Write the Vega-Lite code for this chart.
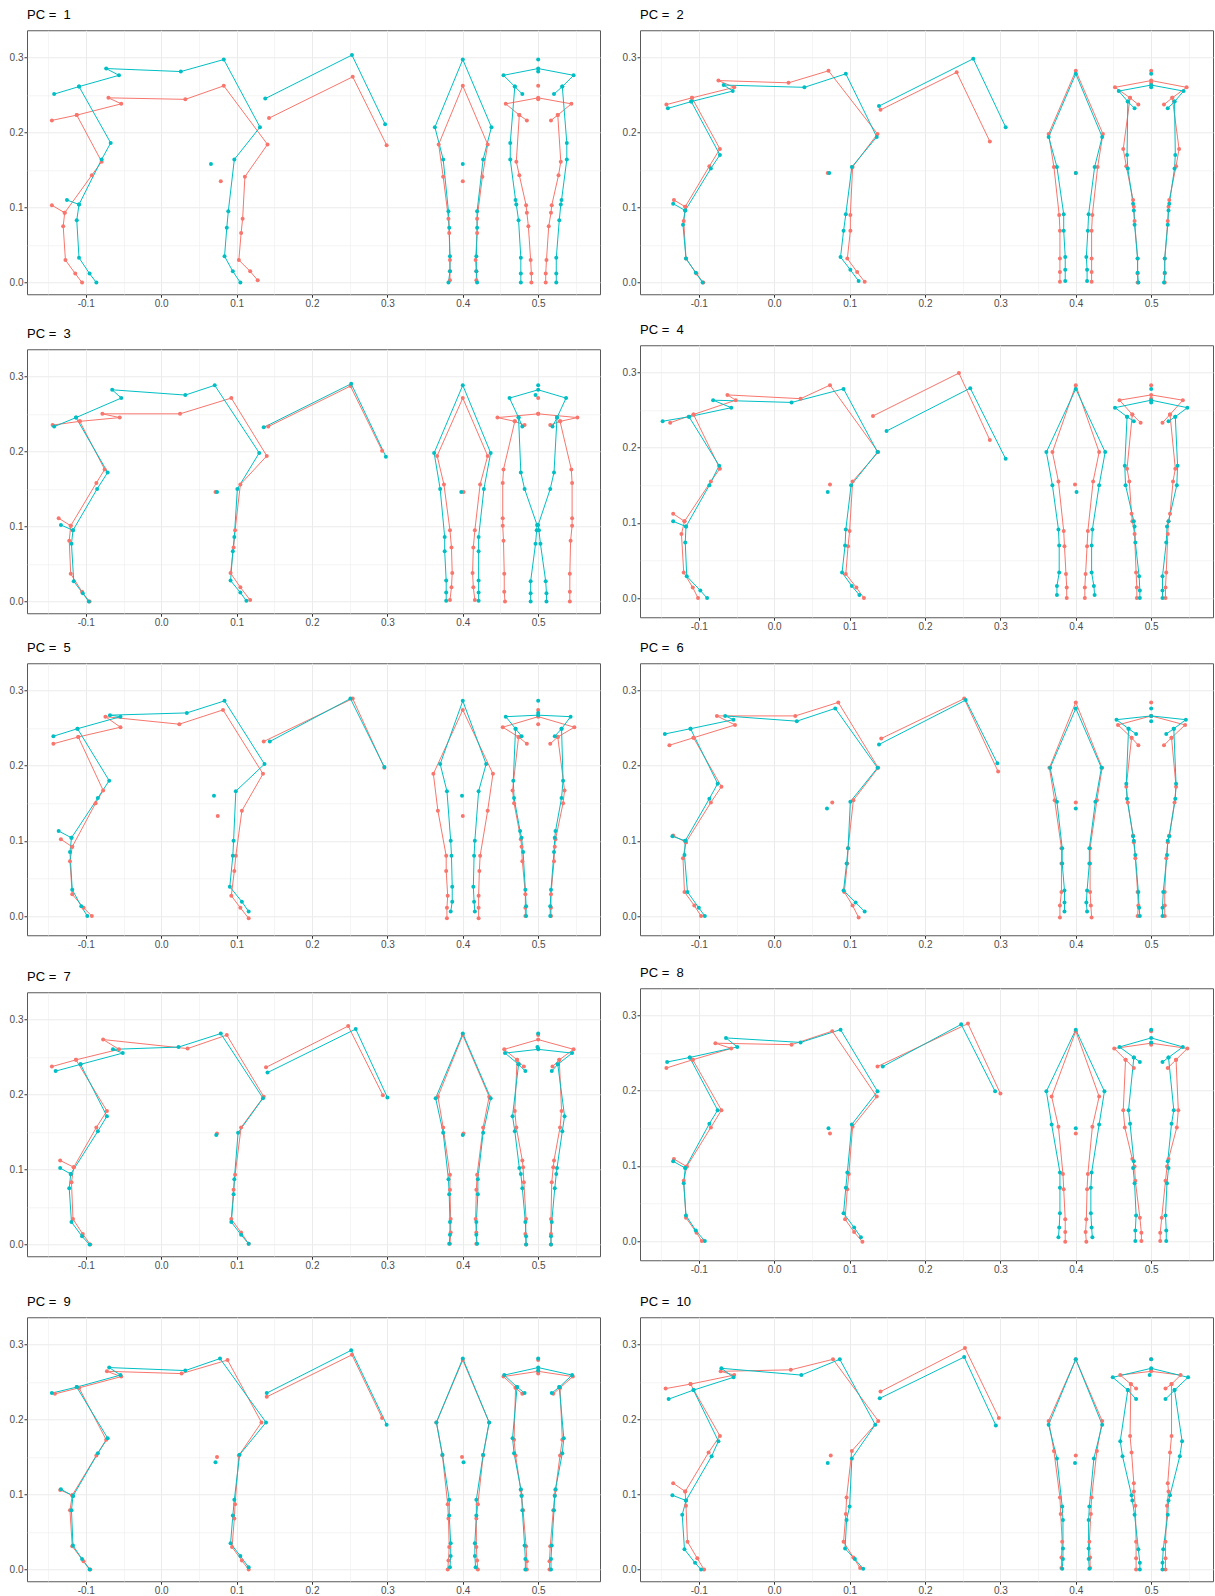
{
"$schema":"https://vega.github.io/schema/vega-lite/v6.json",
"background":"white",
"padding":{"left":8,"top":8,"right":0,"bottom":0},
"datasets":{"sk":[
{"p":1,"g":"a","k":"s1","x":-0.145,"y":0.216},{"p":1,"g":"a","k":"s1","x":-0.112,"y":0.223},{"p":1,"g":"a","k":"s1","x":-0.053,"y":0.238},{"p":1,"g":"a","k":"s1","x":-0.07,"y":0.246},{"p":1,"g":"a","k":"s1","x":0.032,"y":0.244},{"p":1,"g":"a","k":"s1","x":0.083,"y":0.262},{"p":1,"g":"a","k":"s1","x":0.141,"y":0.184},{"p":1,"g":"a","k":"s1","x":0.111,"y":0.141},{"p":1,"g":"a","k":"s1","x":0.108,"y":0.085},{"p":1,"g":"a","k":"s1","x":0.106,"y":0.066},{"p":1,"g":"a","k":"s1","x":0.103,"y":0.03},{"p":1,"g":"a","k":"s1","x":0.118,"y":0.015},{"p":1,"g":"a","k":"s1","x":0.128,"y":0.003},
{"p":1,"g":"a","k":"s2","x":-0.112,"y":0.223},{"p":1,"g":"a","k":"s2","x":-0.079,"y":0.161},{"p":1,"g":"a","k":"s2","x":-0.092,"y":0.143},{"p":1,"g":"a","k":"s2","x":-0.128,"y":0.093},{"p":1,"g":"a","k":"s2","x":-0.13,"y":0.075},{"p":1,"g":"a","k":"s2","x":-0.127,"y":0.03},{"p":1,"g":"a","k":"s2","x":-0.114,"y":0.012},{"p":1,"g":"a","k":"s2","x":-0.105,"y":0},
{"p":1,"g":"a","k":"s3","x":-0.128,"y":0.093},{"p":1,"g":"a","k":"s3","x":-0.145,"y":0.103},
{"p":1,"g":"a","k":"i1","x":0.079,"y":0.135},
{"p":1,"g":"a","k":"b","x":0.143,"y":0.219},{"p":1,"g":"a","k":"b","x":0.254,"y":0.274},{"p":1,"g":"a","k":"b","x":0.299,"y":0.183},
{"p":1,"g":"a","k":"c","x":0.383,"y":0.003},{"p":1,"g":"a","k":"c","x":0.383,"y":0.015},{"p":1,"g":"a","k":"c","x":0.383,"y":0.03},{"p":1,"g":"a","k":"c","x":0.382,"y":0.066},{"p":1,"g":"a","k":"c","x":0.381,"y":0.085},{"p":1,"g":"a","k":"c","x":0.374,"y":0.141},{"p":1,"g":"a","k":"c","x":0.368,"y":0.184},{"p":1,"g":"a","k":"c","x":0.4,"y":0.262},{"p":1,"g":"a","k":"c","x":0.433,"y":0.184},{"p":1,"g":"a","k":"c","x":0.426,"y":0.141},{"p":1,"g":"a","k":"c","x":0.419,"y":0.085},{"p":1,"g":"a","k":"c","x":0.419,"y":0.066},{"p":1,"g":"a","k":"c","x":0.417,"y":0.03},{"p":1,"g":"a","k":"c","x":0.418,"y":0.015},{"p":1,"g":"a","k":"c","x":0.418,"y":0.003},
{"p":1,"g":"a","k":"i2","x":0.4,"y":0.135},
{"p":1,"g":"a","k":"d","x":0.485,"y":0.216},{"p":1,"g":"a","k":"d","x":0.475,"y":0.223},{"p":1,"g":"a","k":"d","x":0.457,"y":0.238},{"p":1,"g":"a","k":"d","x":0.5,"y":0.246},{"p":1,"g":"a","k":"d","x":0.544,"y":0.238},{"p":1,"g":"a","k":"d","x":0.526,"y":0.223},{"p":1,"g":"a","k":"d","x":0.517,"y":0.216},
{"p":1,"g":"a","k":"dl","x":0.475,"y":0.223},{"p":1,"g":"a","k":"dl","x":0.471,"y":0.161},{"p":1,"g":"a","k":"dl","x":0.475,"y":0.143},{"p":1,"g":"a","k":"dl","x":0.484,"y":0.103},{"p":1,"g":"a","k":"dl","x":0.485,"y":0.093},{"p":1,"g":"a","k":"dl","x":0.487,"y":0.075},{"p":1,"g":"a","k":"dl","x":0.49,"y":0.03},{"p":1,"g":"a","k":"dl","x":0.491,"y":0.012},{"p":1,"g":"a","k":"dl","x":0.491,"y":0},
{"p":1,"g":"a","k":"dr","x":0.526,"y":0.223},{"p":1,"g":"a","k":"dr","x":0.53,"y":0.161},{"p":1,"g":"a","k":"dr","x":0.527,"y":0.143},{"p":1,"g":"a","k":"dr","x":0.518,"y":0.103},{"p":1,"g":"a","k":"dr","x":0.517,"y":0.093},{"p":1,"g":"a","k":"dr","x":0.514,"y":0.075},{"p":1,"g":"a","k":"dr","x":0.511,"y":0.03},{"p":1,"g":"a","k":"dr","x":0.51,"y":0.012},{"p":1,"g":"a","k":"dr","x":0.51,"y":0},
{"p":1,"g":"a","k":"i3","x":0.5,"y":0.262},{"p":1,"g":"a","k":"i4","x":0.5,"y":0.244},
{"p":1,"g":"b","k":"s1","x":-0.142,"y":0.251},{"p":1,"g":"b","k":"s1","x":-0.109,"y":0.261},{"p":1,"g":"b","k":"s1","x":-0.056,"y":0.276},{"p":1,"g":"b","k":"s1","x":-0.073,"y":0.285},{"p":1,"g":"b","k":"s1","x":0.026,"y":0.281},{"p":1,"g":"b","k":"s1","x":0.083,"y":0.297},{"p":1,"g":"b","k":"s1","x":0.131,"y":0.207},{"p":1,"g":"b","k":"s1","x":0.097,"y":0.164},{"p":1,"g":"b","k":"s1","x":0.089,"y":0.095},{"p":1,"g":"b","k":"s1","x":0.087,"y":0.073},{"p":1,"g":"b","k":"s1","x":0.084,"y":0.035},{"p":1,"g":"b","k":"s1","x":0.095,"y":0.015},{"p":1,"g":"b","k":"s1","x":0.105,"y":0},
{"p":1,"g":"b","k":"s2","x":-0.109,"y":0.261},{"p":1,"g":"b","k":"s2","x":-0.067,"y":0.186},{"p":1,"g":"b","k":"s2","x":-0.079,"y":0.164},{"p":1,"g":"b","k":"s2","x":-0.109,"y":0.104},{"p":1,"g":"b","k":"s2","x":-0.112,"y":0.083},{"p":1,"g":"b","k":"s2","x":-0.109,"y":0.033},{"p":1,"g":"b","k":"s2","x":-0.095,"y":0.012},{"p":1,"g":"b","k":"s2","x":-0.086,"y":0},
{"p":1,"g":"b","k":"s3","x":-0.109,"y":0.104},{"p":1,"g":"b","k":"s3","x":-0.125,"y":0.11},
{"p":1,"g":"b","k":"i1","x":0.066,"y":0.158},
{"p":1,"g":"b","k":"b","x":0.138,"y":0.245},{"p":1,"g":"b","k":"b","x":0.253,"y":0.303},{"p":1,"g":"b","k":"b","x":0.297,"y":0.211},
{"p":1,"g":"b","k":"c","x":0.381,"y":0},{"p":1,"g":"b","k":"c","x":0.383,"y":0.015},{"p":1,"g":"b","k":"c","x":0.383,"y":0.035},{"p":1,"g":"b","k":"c","x":0.382,"y":0.073},{"p":1,"g":"b","k":"c","x":0.381,"y":0.095},{"p":1,"g":"b","k":"c","x":0.374,"y":0.164},{"p":1,"g":"b","k":"c","x":0.363,"y":0.207},{"p":1,"g":"b","k":"c","x":0.4,"y":0.297},{"p":1,"g":"b","k":"c","x":0.438,"y":0.207},{"p":1,"g":"b","k":"c","x":0.427,"y":0.164},{"p":1,"g":"b","k":"c","x":0.419,"y":0.095},{"p":1,"g":"b","k":"c","x":0.419,"y":0.073},{"p":1,"g":"b","k":"c","x":0.418,"y":0.035},{"p":1,"g":"b","k":"c","x":0.418,"y":0.015},{"p":1,"g":"b","k":"c","x":0.419,"y":0},
{"p":1,"g":"b","k":"i2","x":0.4,"y":0.158},
{"p":1,"g":"b","k":"d","x":0.479,"y":0.251},{"p":1,"g":"b","k":"d","x":0.469,"y":0.261},{"p":1,"g":"b","k":"d","x":0.454,"y":0.276},{"p":1,"g":"b","k":"d","x":0.5,"y":0.285},{"p":1,"g":"b","k":"d","x":0.547,"y":0.276},{"p":1,"g":"b","k":"d","x":0.532,"y":0.261},{"p":1,"g":"b","k":"d","x":0.521,"y":0.251},
{"p":1,"g":"b","k":"dl","x":0.469,"y":0.261},{"p":1,"g":"b","k":"dl","x":0.463,"y":0.186},{"p":1,"g":"b","k":"dl","x":0.463,"y":0.164},{"p":1,"g":"b","k":"dl","x":0.47,"y":0.11},{"p":1,"g":"b","k":"dl","x":0.471,"y":0.104},{"p":1,"g":"b","k":"dl","x":0.474,"y":0.083},{"p":1,"g":"b","k":"dl","x":0.477,"y":0.033},{"p":1,"g":"b","k":"dl","x":0.477,"y":0.012},{"p":1,"g":"b","k":"dl","x":0.477,"y":0},
{"p":1,"g":"b","k":"dr","x":0.532,"y":0.261},{"p":1,"g":"b","k":"dr","x":0.538,"y":0.186},{"p":1,"g":"b","k":"dr","x":0.538,"y":0.164},{"p":1,"g":"b","k":"dr","x":0.531,"y":0.11},{"p":1,"g":"b","k":"dr","x":0.53,"y":0.104},{"p":1,"g":"b","k":"dr","x":0.528,"y":0.083},{"p":1,"g":"b","k":"dr","x":0.524,"y":0.033},{"p":1,"g":"b","k":"dr","x":0.524,"y":0.012},{"p":1,"g":"b","k":"dr","x":0.524,"y":0},
{"p":1,"g":"b","k":"i3","x":0.5,"y":0.297},{"p":1,"g":"b","k":"i4","x":0.5,"y":0.281},

{"p":2,"g":"a","k":"s1","x":-0.143,"y":0.237},{"p":2,"g":"a","k":"s1","x":-0.109,"y":0.246},{"p":2,"g":"a","k":"s1","x":-0.053,"y":0.26},{"p":2,"g":"a","k":"s1","x":-0.074,"y":0.269},{"p":2,"g":"a","k":"s1","x":0.019,"y":0.266},{"p":2,"g":"a","k":"s1","x":0.072,"y":0.282},{"p":2,"g":"a","k":"s1","x":0.137,"y":0.198},{"p":2,"g":"a","k":"s1","x":0.104,"y":0.154},{"p":2,"g":"a","k":"s1","x":0.101,"y":0.09},{"p":2,"g":"a","k":"s1","x":0.101,"y":0.069},{"p":2,"g":"a","k":"s1","x":0.097,"y":0.032},{"p":2,"g":"a","k":"s1","x":0.11,"y":0.014},{"p":2,"g":"a","k":"s1","x":0.12,"y":0.001},
{"p":2,"g":"a","k":"s2","x":-0.109,"y":0.246},{"p":2,"g":"a","k":"s2","x":-0.072,"y":0.178},{"p":2,"g":"a","k":"s2","x":-0.086,"y":0.155},{"p":2,"g":"a","k":"s2","x":-0.118,"y":0.101},{"p":2,"g":"a","k":"s2","x":-0.12,"y":0.082},{"p":2,"g":"a","k":"s2","x":-0.117,"y":0.032},{"p":2,"g":"a","k":"s2","x":-0.103,"y":0.012},{"p":2,"g":"a","k":"s2","x":-0.094,"y":0},
{"p":2,"g":"a","k":"s3","x":-0.118,"y":0.101},{"p":2,"g":"a","k":"s3","x":-0.133,"y":0.11},
{"p":2,"g":"a","k":"i1","x":0.071,"y":0.146},
{"p":2,"g":"a","k":"b","x":0.141,"y":0.23},{"p":2,"g":"a","k":"b","x":0.242,"y":0.28},{"p":2,"g":"a","k":"b","x":0.286,"y":0.188},
{"p":2,"g":"a","k":"c","x":0.379,"y":0.001},{"p":2,"g":"a","k":"c","x":0.379,"y":0.014},{"p":2,"g":"a","k":"c","x":0.379,"y":0.032},{"p":2,"g":"a","k":"c","x":0.379,"y":0.069},{"p":2,"g":"a","k":"c","x":0.378,"y":0.09},{"p":2,"g":"a","k":"c","x":0.371,"y":0.154},{"p":2,"g":"a","k":"c","x":0.364,"y":0.198},{"p":2,"g":"a","k":"c","x":0.4,"y":0.282},{"p":2,"g":"a","k":"c","x":0.436,"y":0.198},{"p":2,"g":"a","k":"c","x":0.429,"y":0.154},{"p":2,"g":"a","k":"c","x":0.422,"y":0.09},{"p":2,"g":"a","k":"c","x":0.421,"y":0.069},{"p":2,"g":"a","k":"c","x":0.421,"y":0.032},{"p":2,"g":"a","k":"c","x":0.421,"y":0.014},{"p":2,"g":"a","k":"c","x":0.421,"y":0.001},
{"p":2,"g":"a","k":"i2","x":0.4,"y":0.146},
{"p":2,"g":"a","k":"d","x":0.483,"y":0.237},{"p":2,"g":"a","k":"d","x":0.472,"y":0.246},{"p":2,"g":"a","k":"d","x":0.452,"y":0.26},{"p":2,"g":"a","k":"d","x":0.5,"y":0.269},{"p":2,"g":"a","k":"d","x":0.547,"y":0.26},{"p":2,"g":"a","k":"d","x":0.528,"y":0.246},{"p":2,"g":"a","k":"d","x":0.517,"y":0.237},
{"p":2,"g":"a","k":"dl","x":0.472,"y":0.246},{"p":2,"g":"a","k":"dl","x":0.463,"y":0.178},{"p":2,"g":"a","k":"dl","x":0.467,"y":0.155},{"p":2,"g":"a","k":"dl","x":0.476,"y":0.11},{"p":2,"g":"a","k":"dl","x":0.477,"y":0.101},{"p":2,"g":"a","k":"dl","x":0.478,"y":0.082},{"p":2,"g":"a","k":"dl","x":0.482,"y":0.032},{"p":2,"g":"a","k":"dl","x":0.482,"y":0.012},{"p":2,"g":"a","k":"dl","x":0.482,"y":0},
{"p":2,"g":"a","k":"dr","x":0.528,"y":0.246},{"p":2,"g":"a","k":"dr","x":0.537,"y":0.178},{"p":2,"g":"a","k":"dr","x":0.533,"y":0.155},{"p":2,"g":"a","k":"dr","x":0.524,"y":0.11},{"p":2,"g":"a","k":"dr","x":0.523,"y":0.101},{"p":2,"g":"a","k":"dr","x":0.522,"y":0.082},{"p":2,"g":"a","k":"dr","x":0.518,"y":0.032},{"p":2,"g":"a","k":"dr","x":0.518,"y":0.012},{"p":2,"g":"a","k":"dr","x":0.518,"y":0},
{"p":2,"g":"a","k":"i3","x":0.5,"y":0.282},{"p":2,"g":"a","k":"i4","x":0.5,"y":0.266},
{"p":2,"g":"b","k":"s1","x":-0.141,"y":0.232},{"p":2,"g":"b","k":"s1","x":-0.11,"y":0.241},{"p":2,"g":"b","k":"s1","x":-0.055,"y":0.255},{"p":2,"g":"b","k":"s1","x":-0.067,"y":0.263},{"p":2,"g":"b","k":"s1","x":0.04,"y":0.26},{"p":2,"g":"b","k":"s1","x":0.095,"y":0.278},{"p":2,"g":"b","k":"s1","x":0.136,"y":0.194},{"p":2,"g":"b","k":"s1","x":0.103,"y":0.154},{"p":2,"g":"b","k":"s1","x":0.095,"y":0.091},{"p":2,"g":"b","k":"s1","x":0.092,"y":0.069},{"p":2,"g":"b","k":"s1","x":0.088,"y":0.034},{"p":2,"g":"b","k":"s1","x":0.101,"y":0.017},{"p":2,"g":"b","k":"s1","x":0.112,"y":0.002},
{"p":2,"g":"b","k":"s2","x":-0.11,"y":0.241},{"p":2,"g":"b","k":"s2","x":-0.072,"y":0.17},{"p":2,"g":"b","k":"s2","x":-0.084,"y":0.152},{"p":2,"g":"b","k":"s2","x":-0.118,"y":0.096},{"p":2,"g":"b","k":"s2","x":-0.121,"y":0.077},{"p":2,"g":"b","k":"s2","x":-0.117,"y":0.032},{"p":2,"g":"b","k":"s2","x":-0.104,"y":0.013},{"p":2,"g":"b","k":"s2","x":-0.095,"y":0},
{"p":2,"g":"b","k":"s3","x":-0.118,"y":0.096},{"p":2,"g":"b","k":"s3","x":-0.134,"y":0.105},
{"p":2,"g":"b","k":"i1","x":0.073,"y":0.146},
{"p":2,"g":"b","k":"b","x":0.139,"y":0.235},{"p":2,"g":"b","k":"b","x":0.264,"y":0.298},{"p":2,"g":"b","k":"b","x":0.307,"y":0.207},
{"p":2,"g":"b","k":"c","x":0.386,"y":0.002},{"p":2,"g":"b","k":"c","x":0.386,"y":0.017},{"p":2,"g":"b","k":"c","x":0.386,"y":0.034},{"p":2,"g":"b","k":"c","x":0.384,"y":0.069},{"p":2,"g":"b","k":"c","x":0.384,"y":0.091},{"p":2,"g":"b","k":"c","x":0.375,"y":0.154},{"p":2,"g":"b","k":"c","x":0.364,"y":0.194},{"p":2,"g":"b","k":"c","x":0.4,"y":0.278},{"p":2,"g":"b","k":"c","x":0.435,"y":0.194},{"p":2,"g":"b","k":"c","x":0.425,"y":0.154},{"p":2,"g":"b","k":"c","x":0.417,"y":0.091},{"p":2,"g":"b","k":"c","x":0.416,"y":0.069},{"p":2,"g":"b","k":"c","x":0.414,"y":0.034},{"p":2,"g":"b","k":"c","x":0.415,"y":0.017},{"p":2,"g":"b","k":"c","x":0.415,"y":0.002},
{"p":2,"g":"b","k":"i2","x":0.4,"y":0.146},
{"p":2,"g":"b","k":"d","x":0.478,"y":0.232},{"p":2,"g":"b","k":"d","x":0.469,"y":0.241},{"p":2,"g":"b","k":"d","x":0.457,"y":0.255},{"p":2,"g":"b","k":"d","x":0.5,"y":0.263},{"p":2,"g":"b","k":"d","x":0.543,"y":0.255},{"p":2,"g":"b","k":"d","x":0.531,"y":0.241},{"p":2,"g":"b","k":"d","x":0.522,"y":0.232},
{"p":2,"g":"b","k":"dl","x":0.469,"y":0.241},{"p":2,"g":"b","k":"dl","x":0.468,"y":0.17},{"p":2,"g":"b","k":"dl","x":0.469,"y":0.152},{"p":2,"g":"b","k":"dl","x":0.476,"y":0.105},{"p":2,"g":"b","k":"dl","x":0.477,"y":0.096},{"p":2,"g":"b","k":"dl","x":0.478,"y":0.077},{"p":2,"g":"b","k":"dl","x":0.482,"y":0.032},{"p":2,"g":"b","k":"dl","x":0.482,"y":0.013},{"p":2,"g":"b","k":"dl","x":0.483,"y":0},
{"p":2,"g":"b","k":"dr","x":0.531,"y":0.241},{"p":2,"g":"b","k":"dr","x":0.532,"y":0.17},{"p":2,"g":"b","k":"dr","x":0.531,"y":0.152},{"p":2,"g":"b","k":"dr","x":0.524,"y":0.105},{"p":2,"g":"b","k":"dr","x":0.523,"y":0.096},{"p":2,"g":"b","k":"dr","x":0.522,"y":0.077},{"p":2,"g":"b","k":"dr","x":0.518,"y":0.032},{"p":2,"g":"b","k":"dr","x":0.518,"y":0.013},{"p":2,"g":"b","k":"dr","x":0.517,"y":0},
{"p":2,"g":"b","k":"i3","x":0.5,"y":0.278},{"p":2,"g":"b","k":"i4","x":0.5,"y":0.26},

{"p":3,"g":"a","k":"s1","x":-0.144,"y":0.235},{"p":3,"g":"a","k":"s1","x":-0.108,"y":0.24},{"p":3,"g":"a","k":"s1","x":-0.055,"y":0.245},{"p":3,"g":"a","k":"s1","x":-0.078,"y":0.25},{"p":3,"g":"a","k":"s1","x":0.025,"y":0.25},{"p":3,"g":"a","k":"s1","x":0.093,"y":0.271},{"p":3,"g":"a","k":"s1","x":0.14,"y":0.194},{"p":3,"g":"a","k":"s1","x":0.105,"y":0.156},{"p":3,"g":"a","k":"s1","x":0.098,"y":0.095},{"p":3,"g":"a","k":"s1","x":0.096,"y":0.072},{"p":3,"g":"a","k":"s1","x":0.092,"y":0.038},{"p":3,"g":"a","k":"s1","x":0.105,"y":0.019},{"p":3,"g":"a","k":"s1","x":0.118,"y":0.002},
{"p":3,"g":"a","k":"s2","x":-0.108,"y":0.24},{"p":3,"g":"a","k":"s2","x":-0.075,"y":0.176},{"p":3,"g":"a","k":"s2","x":-0.086,"y":0.158},{"p":3,"g":"a","k":"s2","x":-0.12,"y":0.101},{"p":3,"g":"a","k":"s2","x":-0.122,"y":0.081},{"p":3,"g":"a","k":"s2","x":-0.12,"y":0.037},{"p":3,"g":"a","k":"s2","x":-0.105,"y":0.013},{"p":3,"g":"a","k":"s2","x":-0.095,"y":0},
{"p":3,"g":"a","k":"s3","x":-0.12,"y":0.101},{"p":3,"g":"a","k":"s3","x":-0.136,"y":0.111},
{"p":3,"g":"a","k":"i1","x":0.072,"y":0.146},
{"p":3,"g":"a","k":"b","x":0.142,"y":0.233},{"p":3,"g":"a","k":"b","x":0.251,"y":0.287},{"p":3,"g":"a","k":"b","x":0.293,"y":0.201},
{"p":3,"g":"a","k":"c","x":0.383,"y":0.002},{"p":3,"g":"a","k":"c","x":0.385,"y":0.019},{"p":3,"g":"a","k":"c","x":0.386,"y":0.038},{"p":3,"g":"a","k":"c","x":0.385,"y":0.072},{"p":3,"g":"a","k":"c","x":0.383,"y":0.095},{"p":3,"g":"a","k":"c","x":0.375,"y":0.156},{"p":3,"g":"a","k":"c","x":0.366,"y":0.194},{"p":3,"g":"a","k":"c","x":0.4,"y":0.271},{"p":3,"g":"a","k":"c","x":0.433,"y":0.194},{"p":3,"g":"a","k":"c","x":0.423,"y":0.156},{"p":3,"g":"a","k":"c","x":0.416,"y":0.095},{"p":3,"g":"a","k":"c","x":0.414,"y":0.072},{"p":3,"g":"a","k":"c","x":0.413,"y":0.038},{"p":3,"g":"a","k":"c","x":0.414,"y":0.019},{"p":3,"g":"a","k":"c","x":0.416,"y":0.002},
{"p":3,"g":"a","k":"i2","x":0.401,"y":0.146},
{"p":3,"g":"a","k":"d","x":0.482,"y":0.235},{"p":3,"g":"a","k":"d","x":0.469,"y":0.24},{"p":3,"g":"a","k":"d","x":0.446,"y":0.245},{"p":3,"g":"a","k":"d","x":0.5,"y":0.25},{"p":3,"g":"a","k":"d","x":0.552,"y":0.245},{"p":3,"g":"a","k":"d","x":0.529,"y":0.24},{"p":3,"g":"a","k":"d","x":0.516,"y":0.235},
{"p":3,"g":"a","k":"dl","x":0.469,"y":0.24},{"p":3,"g":"a","k":"dl","x":0.454,"y":0.176},{"p":3,"g":"a","k":"dl","x":0.453,"y":0.158},{"p":3,"g":"a","k":"dl","x":0.453,"y":0.111},{"p":3,"g":"a","k":"dl","x":0.453,"y":0.101},{"p":3,"g":"a","k":"dl","x":0.454,"y":0.081},{"p":3,"g":"a","k":"dl","x":0.455,"y":0.037},{"p":3,"g":"a","k":"dl","x":0.455,"y":0.013},{"p":3,"g":"a","k":"dl","x":0.456,"y":0},
{"p":3,"g":"a","k":"dr","x":0.529,"y":0.24},{"p":3,"g":"a","k":"dr","x":0.544,"y":0.176},{"p":3,"g":"a","k":"dr","x":0.545,"y":0.158},{"p":3,"g":"a","k":"dr","x":0.545,"y":0.111},{"p":3,"g":"a","k":"dr","x":0.545,"y":0.101},{"p":3,"g":"a","k":"dr","x":0.543,"y":0.081},{"p":3,"g":"a","k":"dr","x":0.542,"y":0.037},{"p":3,"g":"a","k":"dr","x":0.542,"y":0.013},{"p":3,"g":"a","k":"dr","x":0.542,"y":0},
{"p":3,"g":"a","k":"i3","x":0.5,"y":0.271},{"p":3,"g":"a","k":"i4","x":0.5,"y":0.25},
{"p":3,"g":"b","k":"s1","x":-0.142,"y":0.233},{"p":3,"g":"b","k":"s1","x":-0.113,"y":0.245},{"p":3,"g":"b","k":"s1","x":-0.053,"y":0.271},{"p":3,"g":"b","k":"s1","x":-0.065,"y":0.282},{"p":3,"g":"b","k":"s1","x":0.032,"y":0.275},{"p":3,"g":"b","k":"s1","x":0.071,"y":0.288},{"p":3,"g":"b","k":"s1","x":0.13,"y":0.198},{"p":3,"g":"b","k":"s1","x":0.101,"y":0.15},{"p":3,"g":"b","k":"s1","x":0.097,"y":0.086},{"p":3,"g":"b","k":"s1","x":0.095,"y":0.067},{"p":3,"g":"b","k":"s1","x":0.092,"y":0.028},{"p":3,"g":"b","k":"s1","x":0.105,"y":0.012},{"p":3,"g":"b","k":"s1","x":0.113,"y":0.001},
{"p":3,"g":"b","k":"s2","x":-0.113,"y":0.245},{"p":3,"g":"b","k":"s2","x":-0.071,"y":0.172},{"p":3,"g":"b","k":"s2","x":-0.085,"y":0.15},{"p":3,"g":"b","k":"s2","x":-0.117,"y":0.095},{"p":3,"g":"b","k":"s2","x":-0.119,"y":0.077},{"p":3,"g":"b","k":"s2","x":-0.116,"y":0.027},{"p":3,"g":"b","k":"s2","x":-0.104,"y":0.011},{"p":3,"g":"b","k":"s2","x":-0.096,"y":0},
{"p":3,"g":"b","k":"s3","x":-0.117,"y":0.095},{"p":3,"g":"b","k":"s3","x":-0.133,"y":0.102},
{"p":3,"g":"b","k":"i1","x":0.074,"y":0.146},
{"p":3,"g":"b","k":"b","x":0.136,"y":0.232},{"p":3,"g":"b","k":"b","x":0.252,"y":0.29},{"p":3,"g":"b","k":"b","x":0.298,"y":0.193},
{"p":3,"g":"b","k":"c","x":0.378,"y":0.001},{"p":3,"g":"b","k":"c","x":0.378,"y":0.012},{"p":3,"g":"b","k":"c","x":0.378,"y":0.028},{"p":3,"g":"b","k":"c","x":0.376,"y":0.067},{"p":3,"g":"b","k":"c","x":0.376,"y":0.086},{"p":3,"g":"b","k":"c","x":0.37,"y":0.15},{"p":3,"g":"b","k":"c","x":0.362,"y":0.198},{"p":3,"g":"b","k":"c","x":0.4,"y":0.288},{"p":3,"g":"b","k":"c","x":0.437,"y":0.198},{"p":3,"g":"b","k":"c","x":0.428,"y":0.15},{"p":3,"g":"b","k":"c","x":0.421,"y":0.086},{"p":3,"g":"b","k":"c","x":0.421,"y":0.067},{"p":3,"g":"b","k":"c","x":0.421,"y":0.028},{"p":3,"g":"b","k":"c","x":0.421,"y":0.012},{"p":3,"g":"b","k":"c","x":0.421,"y":0.001},
{"p":3,"g":"b","k":"i2","x":0.398,"y":0.146},
{"p":3,"g":"b","k":"d","x":0.479,"y":0.233},{"p":3,"g":"b","k":"d","x":0.474,"y":0.245},{"p":3,"g":"b","k":"d","x":0.462,"y":0.271},{"p":3,"g":"b","k":"d","x":0.5,"y":0.282},{"p":3,"g":"b","k":"d","x":0.537,"y":0.271},{"p":3,"g":"b","k":"d","x":0.525,"y":0.245},{"p":3,"g":"b","k":"d","x":0.519,"y":0.233},
{"p":3,"g":"b","k":"dl","x":0.474,"y":0.245},{"p":3,"g":"b","k":"dl","x":0.477,"y":0.172},{"p":3,"g":"b","k":"dl","x":0.482,"y":0.15},{"p":3,"g":"b","k":"dl","x":0.4985,"y":0.102},{"p":3,"g":"b","k":"dl","x":0.498,"y":0.095},{"p":3,"g":"b","k":"dl","x":0.4965,"y":0.077},{"p":3,"g":"b","k":"dl","x":0.49,"y":0.027},{"p":3,"g":"b","k":"dl","x":0.49,"y":0.011},{"p":3,"g":"b","k":"dl","x":0.49,"y":0},
{"p":3,"g":"b","k":"dr","x":0.525,"y":0.245},{"p":3,"g":"b","k":"dr","x":0.521,"y":0.172},{"p":3,"g":"b","k":"dr","x":0.516,"y":0.15},{"p":3,"g":"b","k":"dr","x":0.5,"y":0.102},{"p":3,"g":"b","k":"dr","x":0.501,"y":0.095},{"p":3,"g":"b","k":"dr","x":0.503,"y":0.077},{"p":3,"g":"b","k":"dr","x":0.51,"y":0.027},{"p":3,"g":"b","k":"dr","x":0.511,"y":0.011},{"p":3,"g":"b","k":"dr","x":0.511,"y":0},
{"p":3,"g":"b","k":"i3","x":0.5,"y":0.288},{"p":3,"g":"b","k":"i4","x":0.4965,"y":0.275},

{"p":4,"g":"a","k":"s1","x":-0.138,"y":0.233},{"p":4,"g":"a","k":"s1","x":-0.107,"y":0.244},{"p":4,"g":"a","k":"s1","x":-0.051,"y":0.263},{"p":4,"g":"a","k":"s1","x":-0.062,"y":0.27},{"p":4,"g":"a","k":"s1","x":0.035,"y":0.265},{"p":4,"g":"a","k":"s1","x":0.074,"y":0.283},{"p":4,"g":"a","k":"s1","x":0.138,"y":0.194},{"p":4,"g":"a","k":"s1","x":0.104,"y":0.155},{"p":4,"g":"a","k":"s1","x":0.1,"y":0.089},{"p":4,"g":"a","k":"s1","x":0.098,"y":0.069},{"p":4,"g":"a","k":"s1","x":0.095,"y":0.032},{"p":4,"g":"a","k":"s1","x":0.109,"y":0.014},{"p":4,"g":"a","k":"s1","x":0.119,"y":0},
{"p":4,"g":"a","k":"s2","x":-0.107,"y":0.244},{"p":4,"g":"a","k":"s2","x":-0.072,"y":0.172},{"p":4,"g":"a","k":"s2","x":-0.084,"y":0.155},{"p":4,"g":"a","k":"s2","x":-0.119,"y":0.102},{"p":4,"g":"a","k":"s2","x":-0.123,"y":0.085},{"p":4,"g":"a","k":"s2","x":-0.12,"y":0.034},{"p":4,"g":"a","k":"s2","x":-0.108,"y":0.014},{"p":4,"g":"a","k":"s2","x":-0.101,"y":0},
{"p":4,"g":"a","k":"s3","x":-0.119,"y":0.102},{"p":4,"g":"a","k":"s3","x":-0.134,"y":0.112},
{"p":4,"g":"a","k":"i1","x":0.074,"y":0.151},
{"p":4,"g":"a","k":"b","x":0.131,"y":0.242},{"p":4,"g":"a","k":"b","x":0.245,"y":0.299},{"p":4,"g":"a","k":"b","x":0.286,"y":0.21},
{"p":4,"g":"a","k":"c","x":0.388,"y":0},{"p":4,"g":"a","k":"c","x":0.388,"y":0.014},{"p":4,"g":"a","k":"c","x":0.387,"y":0.032},{"p":4,"g":"a","k":"c","x":0.385,"y":0.069},{"p":4,"g":"a","k":"c","x":0.384,"y":0.089},{"p":4,"g":"a","k":"c","x":0.377,"y":0.155},{"p":4,"g":"a","k":"c","x":0.369,"y":0.194},{"p":4,"g":"a","k":"c","x":0.4,"y":0.283},{"p":4,"g":"a","k":"c","x":0.431,"y":0.194},{"p":4,"g":"a","k":"c","x":0.423,"y":0.155},{"p":4,"g":"a","k":"c","x":0.416,"y":0.089},{"p":4,"g":"a","k":"c","x":0.415,"y":0.069},{"p":4,"g":"a","k":"c","x":0.413,"y":0.032},{"p":4,"g":"a","k":"c","x":0.412,"y":0.014},{"p":4,"g":"a","k":"c","x":0.412,"y":0},
{"p":4,"g":"a","k":"i2","x":0.399,"y":0.151},
{"p":4,"g":"a","k":"d","x":0.486,"y":0.233},{"p":4,"g":"a","k":"d","x":0.475,"y":0.244},{"p":4,"g":"a","k":"d","x":0.458,"y":0.263},{"p":4,"g":"a","k":"d","x":0.5,"y":0.27},{"p":4,"g":"a","k":"d","x":0.542,"y":0.263},{"p":4,"g":"a","k":"d","x":0.525,"y":0.244},{"p":4,"g":"a","k":"d","x":0.515,"y":0.233},
{"p":4,"g":"a","k":"dl","x":0.475,"y":0.244},{"p":4,"g":"a","k":"dl","x":0.468,"y":0.172},{"p":4,"g":"a","k":"dl","x":0.471,"y":0.155},{"p":4,"g":"a","k":"dl","x":0.474,"y":0.112},{"p":4,"g":"a","k":"dl","x":0.475,"y":0.102},{"p":4,"g":"a","k":"dl","x":0.478,"y":0.085},{"p":4,"g":"a","k":"dl","x":0.48,"y":0.034},{"p":4,"g":"a","k":"dl","x":0.481,"y":0.014},{"p":4,"g":"a","k":"dl","x":0.481,"y":0},
{"p":4,"g":"a","k":"dr","x":0.525,"y":0.244},{"p":4,"g":"a","k":"dr","x":0.532,"y":0.172},{"p":4,"g":"a","k":"dr","x":0.529,"y":0.155},{"p":4,"g":"a","k":"dr","x":0.525,"y":0.112},{"p":4,"g":"a","k":"dr","x":0.523,"y":0.102},{"p":4,"g":"a","k":"dr","x":0.522,"y":0.085},{"p":4,"g":"a","k":"dr","x":0.52,"y":0.034},{"p":4,"g":"a","k":"dr","x":0.519,"y":0.014},{"p":4,"g":"a","k":"dr","x":0.519,"y":0},
{"p":4,"g":"a","k":"i3","x":0.5,"y":0.283},{"p":4,"g":"a","k":"i4","x":0.5,"y":0.265},
{"p":4,"g":"b","k":"s1","x":-0.148,"y":0.235},{"p":4,"g":"b","k":"s1","x":-0.113,"y":0.241},{"p":4,"g":"b","k":"s1","x":-0.057,"y":0.253},{"p":4,"g":"b","k":"s1","x":-0.081,"y":0.263},{"p":4,"g":"b","k":"s1","x":0.023,"y":0.26},{"p":4,"g":"b","k":"s1","x":0.092,"y":0.278},{"p":4,"g":"b","k":"s1","x":0.137,"y":0.194},{"p":4,"g":"b","k":"s1","x":0.102,"y":0.15},{"p":4,"g":"b","k":"s1","x":0.095,"y":0.091},{"p":4,"g":"b","k":"s1","x":0.094,"y":0.07},{"p":4,"g":"b","k":"s1","x":0.09,"y":0.034},{"p":4,"g":"b","k":"s1","x":0.103,"y":0.016},{"p":4,"g":"b","k":"s1","x":0.113,"y":0.004},
{"p":4,"g":"b","k":"s2","x":-0.113,"y":0.241},{"p":4,"g":"b","k":"s2","x":-0.073,"y":0.176},{"p":4,"g":"b","k":"s2","x":-0.086,"y":0.15},{"p":4,"g":"b","k":"s2","x":-0.117,"y":0.095},{"p":4,"g":"b","k":"s2","x":-0.118,"y":0.074},{"p":4,"g":"b","k":"s2","x":-0.116,"y":0.029},{"p":4,"g":"b","k":"s2","x":-0.098,"y":0.01},{"p":4,"g":"b","k":"s2","x":-0.089,"y":0},
{"p":4,"g":"b","k":"s3","x":-0.117,"y":0.095},{"p":4,"g":"b","k":"s3","x":-0.134,"y":0.102},
{"p":4,"g":"b","k":"i1","x":0.071,"y":0.141},
{"p":4,"g":"b","k":"b","x":0.149,"y":0.222},{"p":4,"g":"b","k":"b","x":0.26,"y":0.279},{"p":4,"g":"b","k":"b","x":0.307,"y":0.185},
{"p":4,"g":"b","k":"c","x":0.375,"y":0.004},{"p":4,"g":"b","k":"c","x":0.375,"y":0.016},{"p":4,"g":"b","k":"c","x":0.378,"y":0.034},{"p":4,"g":"b","k":"c","x":0.378,"y":0.07},{"p":4,"g":"b","k":"c","x":0.377,"y":0.091},{"p":4,"g":"b","k":"c","x":0.369,"y":0.15},{"p":4,"g":"b","k":"c","x":0.361,"y":0.194},{"p":4,"g":"b","k":"c","x":0.4,"y":0.278},{"p":4,"g":"b","k":"c","x":0.439,"y":0.194},{"p":4,"g":"b","k":"c","x":0.431,"y":0.15},{"p":4,"g":"b","k":"c","x":0.422,"y":0.091},{"p":4,"g":"b","k":"c","x":0.421,"y":0.07},{"p":4,"g":"b","k":"c","x":0.421,"y":0.034},{"p":4,"g":"b","k":"c","x":0.424,"y":0.016},{"p":4,"g":"b","k":"c","x":0.425,"y":0.004},
{"p":4,"g":"b","k":"i2","x":0.401,"y":0.141},
{"p":4,"g":"b","k":"d","x":0.477,"y":0.235},{"p":4,"g":"b","k":"d","x":0.468,"y":0.241},{"p":4,"g":"b","k":"d","x":0.452,"y":0.253},{"p":4,"g":"b","k":"d","x":0.5,"y":0.263},{"p":4,"g":"b","k":"d","x":0.548,"y":0.253},{"p":4,"g":"b","k":"d","x":0.532,"y":0.241},{"p":4,"g":"b","k":"d","x":0.523,"y":0.235},
{"p":4,"g":"b","k":"dl","x":0.468,"y":0.241},{"p":4,"g":"b","k":"dl","x":0.465,"y":0.176},{"p":4,"g":"b","k":"dl","x":0.466,"y":0.15},{"p":4,"g":"b","k":"dl","x":0.477,"y":0.102},{"p":4,"g":"b","k":"dl","x":0.478,"y":0.095},{"p":4,"g":"b","k":"dl","x":0.479,"y":0.074},{"p":4,"g":"b","k":"dl","x":0.484,"y":0.029},{"p":4,"g":"b","k":"dl","x":0.485,"y":0.01},{"p":4,"g":"b","k":"dl","x":0.485,"y":0},
{"p":4,"g":"b","k":"dr","x":0.532,"y":0.241},{"p":4,"g":"b","k":"dr","x":0.535,"y":0.176},{"p":4,"g":"b","k":"dr","x":0.534,"y":0.15},{"p":4,"g":"b","k":"dr","x":0.523,"y":0.102},{"p":4,"g":"b","k":"dr","x":0.521,"y":0.095},{"p":4,"g":"b","k":"dr","x":0.52,"y":0.074},{"p":4,"g":"b","k":"dr","x":0.515,"y":0.029},{"p":4,"g":"b","k":"dr","x":0.515,"y":0.01},{"p":4,"g":"b","k":"dr","x":0.515,"y":0},
{"p":4,"g":"b","k":"i3","x":0.5,"y":0.278},{"p":4,"g":"b","k":"i4","x":0.5,"y":0.26},

{"p":5,"g":"a","k":"s1","x":-0.143,"y":0.229},{"p":5,"g":"a","k":"s1","x":-0.11,"y":0.238},{"p":5,"g":"a","k":"s1","x":-0.054,"y":0.251},{"p":5,"g":"a","k":"s1","x":-0.074,"y":0.265},{"p":5,"g":"a","k":"s1","x":0.024,"y":0.255},{"p":5,"g":"a","k":"s1","x":0.082,"y":0.274},{"p":5,"g":"a","k":"s1","x":0.135,"y":0.189},{"p":5,"g":"a","k":"s1","x":0.107,"y":0.14},{"p":5,"g":"a","k":"s1","x":0.099,"y":0.08},{"p":5,"g":"a","k":"s1","x":0.097,"y":0.06},{"p":5,"g":"a","k":"s1","x":0.093,"y":0.027},{"p":5,"g":"a","k":"s1","x":0.105,"y":0.011},{"p":5,"g":"a","k":"s1","x":0.116,"y":-0.003},
{"p":5,"g":"a","k":"s2","x":-0.11,"y":0.238},{"p":5,"g":"a","k":"s2","x":-0.077,"y":0.167},{"p":5,"g":"a","k":"s2","x":-0.087,"y":0.15},{"p":5,"g":"a","k":"s2","x":-0.118,"y":0.092},{"p":5,"g":"a","k":"s2","x":-0.121,"y":0.073},{"p":5,"g":"a","k":"s2","x":-0.118,"y":0.029},{"p":5,"g":"a","k":"s2","x":-0.103,"y":0.011},{"p":5,"g":"a","k":"s2","x":-0.092,"y":0},
{"p":5,"g":"a","k":"s3","x":-0.118,"y":0.092},{"p":5,"g":"a","k":"s3","x":-0.133,"y":0.102},
{"p":5,"g":"a","k":"i1","x":0.075,"y":0.133},
{"p":5,"g":"a","k":"b","x":0.136,"y":0.232},{"p":5,"g":"a","k":"b","x":0.254,"y":0.289},{"p":5,"g":"a","k":"b","x":0.296,"y":0.197},
{"p":5,"g":"a","k":"c","x":0.379,"y":-0.003},{"p":5,"g":"a","k":"c","x":0.379,"y":0.011},{"p":5,"g":"a","k":"c","x":0.38,"y":0.027},{"p":5,"g":"a","k":"c","x":0.378,"y":0.06},{"p":5,"g":"a","k":"c","x":0.378,"y":0.08},{"p":5,"g":"a","k":"c","x":0.367,"y":0.14},{"p":5,"g":"a","k":"c","x":0.361,"y":0.189},{"p":5,"g":"a","k":"c","x":0.4,"y":0.274},{"p":5,"g":"a","k":"c","x":0.44,"y":0.189},{"p":5,"g":"a","k":"c","x":0.433,"y":0.14},{"p":5,"g":"a","k":"c","x":0.423,"y":0.08},{"p":5,"g":"a","k":"c","x":0.422,"y":0.06},{"p":5,"g":"a","k":"c","x":0.421,"y":0.027},{"p":5,"g":"a","k":"c","x":0.421,"y":0.011},{"p":5,"g":"a","k":"c","x":0.421,"y":-0.003},
{"p":5,"g":"a","k":"i2","x":0.4,"y":0.133},
{"p":5,"g":"a","k":"d","x":0.485,"y":0.229},{"p":5,"g":"a","k":"d","x":0.474,"y":0.238},{"p":5,"g":"a","k":"d","x":0.453,"y":0.251},{"p":5,"g":"a","k":"d","x":0.5,"y":0.265},{"p":5,"g":"a","k":"d","x":0.548,"y":0.251},{"p":5,"g":"a","k":"d","x":0.526,"y":0.238},{"p":5,"g":"a","k":"d","x":0.516,"y":0.229},
{"p":5,"g":"a","k":"dl","x":0.474,"y":0.238},{"p":5,"g":"a","k":"dl","x":0.466,"y":0.167},{"p":5,"g":"a","k":"dl","x":0.468,"y":0.15},{"p":5,"g":"a","k":"dl","x":0.477,"y":0.102},{"p":5,"g":"a","k":"dl","x":0.478,"y":0.092},{"p":5,"g":"a","k":"dl","x":0.479,"y":0.073},{"p":5,"g":"a","k":"dl","x":0.483,"y":0.029},{"p":5,"g":"a","k":"dl","x":0.483,"y":0.011},{"p":5,"g":"a","k":"dl","x":0.483,"y":0},
{"p":5,"g":"a","k":"dr","x":0.526,"y":0.238},{"p":5,"g":"a","k":"dr","x":0.535,"y":0.167},{"p":5,"g":"a","k":"dr","x":0.533,"y":0.15},{"p":5,"g":"a","k":"dr","x":0.523,"y":0.102},{"p":5,"g":"a","k":"dr","x":0.522,"y":0.092},{"p":5,"g":"a","k":"dr","x":0.521,"y":0.073},{"p":5,"g":"a","k":"dr","x":0.517,"y":0.029},{"p":5,"g":"a","k":"dr","x":0.517,"y":0.011},{"p":5,"g":"a","k":"dr","x":0.517,"y":0},
{"p":5,"g":"a","k":"i3","x":0.5,"y":0.274},{"p":5,"g":"a","k":"i4","x":0.5,"y":0.255},
{"p":5,"g":"b","k":"s1","x":-0.143,"y":0.239},{"p":5,"g":"b","k":"s1","x":-0.111,"y":0.249},{"p":5,"g":"b","k":"s1","x":-0.054,"y":0.265},{"p":5,"g":"b","k":"s1","x":-0.068,"y":0.267},{"p":5,"g":"b","k":"s1","x":0.034,"y":0.27},{"p":5,"g":"b","k":"s1","x":0.084,"y":0.286},{"p":5,"g":"b","k":"s1","x":0.137,"y":0.202},{"p":5,"g":"b","k":"s1","x":0.099,"y":0.166},{"p":5,"g":"b","k":"s1","x":0.096,"y":0.1},{"p":5,"g":"b","k":"s1","x":0.095,"y":0.08},{"p":5,"g":"b","k":"s1","x":0.091,"y":0.039},{"p":5,"g":"b","k":"s1","x":0.107,"y":0.019},{"p":5,"g":"b","k":"s1","x":0.116,"y":0.006},
{"p":5,"g":"b","k":"s2","x":-0.111,"y":0.249},{"p":5,"g":"b","k":"s2","x":-0.069,"y":0.18},{"p":5,"g":"b","k":"s2","x":-0.084,"y":0.157},{"p":5,"g":"b","k":"s2","x":-0.119,"y":0.104},{"p":5,"g":"b","k":"s2","x":-0.121,"y":0.085},{"p":5,"g":"b","k":"s2","x":-0.118,"y":0.035},{"p":5,"g":"b","k":"s2","x":-0.106,"y":0.013},{"p":5,"g":"b","k":"s2","x":-0.098,"y":0},
{"p":5,"g":"b","k":"s3","x":-0.119,"y":0.104},{"p":5,"g":"b","k":"s3","x":-0.136,"y":0.113},
{"p":5,"g":"b","k":"i1","x":0.07,"y":0.16},
{"p":5,"g":"b","k":"b","x":0.144,"y":0.232},{"p":5,"g":"b","k":"b","x":0.251,"y":0.289},{"p":5,"g":"b","k":"b","x":0.296,"y":0.198},
{"p":5,"g":"b","k":"c","x":0.384,"y":0.006},{"p":5,"g":"b","k":"c","x":0.386,"y":0.019},{"p":5,"g":"b","k":"c","x":0.386,"y":0.039},{"p":5,"g":"b","k":"c","x":0.385,"y":0.08},{"p":5,"g":"b","k":"c","x":0.384,"y":0.1},{"p":5,"g":"b","k":"c","x":0.379,"y":0.166},{"p":5,"g":"b","k":"c","x":0.37,"y":0.202},{"p":5,"g":"b","k":"c","x":0.4,"y":0.286},{"p":5,"g":"b","k":"c","x":0.431,"y":0.202},{"p":5,"g":"b","k":"c","x":0.421,"y":0.166},{"p":5,"g":"b","k":"c","x":0.416,"y":0.1},{"p":5,"g":"b","k":"c","x":0.415,"y":0.08},{"p":5,"g":"b","k":"c","x":0.414,"y":0.039},{"p":5,"g":"b","k":"c","x":0.415,"y":0.019},{"p":5,"g":"b","k":"c","x":0.416,"y":0.006},
{"p":5,"g":"b","k":"i2","x":0.399,"y":0.16},
{"p":5,"g":"b","k":"d","x":0.478,"y":0.239},{"p":5,"g":"b","k":"d","x":0.47,"y":0.249},{"p":5,"g":"b","k":"d","x":0.457,"y":0.265},{"p":5,"g":"b","k":"d","x":0.5,"y":0.267},{"p":5,"g":"b","k":"d","x":0.543,"y":0.265},{"p":5,"g":"b","k":"d","x":0.531,"y":0.249},{"p":5,"g":"b","k":"d","x":0.522,"y":0.239},
{"p":5,"g":"b","k":"dl","x":0.47,"y":0.249},{"p":5,"g":"b","k":"dl","x":0.467,"y":0.18},{"p":5,"g":"b","k":"dl","x":0.468,"y":0.157},{"p":5,"g":"b","k":"dl","x":0.476,"y":0.113},{"p":5,"g":"b","k":"dl","x":0.478,"y":0.104},{"p":5,"g":"b","k":"dl","x":0.48,"y":0.085},{"p":5,"g":"b","k":"dl","x":0.483,"y":0.035},{"p":5,"g":"b","k":"dl","x":0.484,"y":0.013},{"p":5,"g":"b","k":"dl","x":0.484,"y":0},
{"p":5,"g":"b","k":"dr","x":0.531,"y":0.249},{"p":5,"g":"b","k":"dr","x":0.533,"y":0.18},{"p":5,"g":"b","k":"dr","x":0.531,"y":0.157},{"p":5,"g":"b","k":"dr","x":0.523,"y":0.113},{"p":5,"g":"b","k":"dr","x":0.522,"y":0.104},{"p":5,"g":"b","k":"dr","x":0.521,"y":0.085},{"p":5,"g":"b","k":"dr","x":0.517,"y":0.035},{"p":5,"g":"b","k":"dr","x":0.516,"y":0.013},{"p":5,"g":"b","k":"dr","x":0.516,"y":0},
{"p":5,"g":"b","k":"i3","x":0.5,"y":0.286},{"p":5,"g":"b","k":"i4","x":0.5,"y":0.27},

{"p":6,"g":"a","k":"s1","x":-0.139,"y":0.227},{"p":6,"g":"a","k":"s1","x":-0.107,"y":0.237},{"p":6,"g":"a","k":"s1","x":-0.052,"y":0.254},{"p":6,"g":"a","k":"s1","x":-0.076,"y":0.266},{"p":6,"g":"a","k":"s1","x":0.028,"y":0.266},{"p":6,"g":"a","k":"s1","x":0.085,"y":0.284},{"p":6,"g":"a","k":"s1","x":0.138,"y":0.197},{"p":6,"g":"a","k":"s1","x":0.105,"y":0.154},{"p":6,"g":"a","k":"s1","x":0.098,"y":0.09},{"p":6,"g":"a","k":"s1","x":0.097,"y":0.07},{"p":6,"g":"a","k":"s1","x":0.093,"y":0.032},{"p":6,"g":"a","k":"s1","x":0.104,"y":0.014},{"p":6,"g":"a","k":"s1","x":0.112,"y":-0.002},
{"p":6,"g":"a","k":"s2","x":-0.107,"y":0.237},{"p":6,"g":"a","k":"s2","x":-0.07,"y":0.172},{"p":6,"g":"a","k":"s2","x":-0.084,"y":0.151},{"p":6,"g":"a","k":"s2","x":-0.117,"y":0.098},{"p":6,"g":"a","k":"s2","x":-0.121,"y":0.077},{"p":6,"g":"a","k":"s2","x":-0.119,"y":0.032},{"p":6,"g":"a","k":"s2","x":-0.106,"y":0.014},{"p":6,"g":"a","k":"s2","x":-0.097,"y":0},
{"p":6,"g":"a","k":"s3","x":-0.117,"y":0.098},{"p":6,"g":"a","k":"s3","x":-0.134,"y":0.107},
{"p":6,"g":"a","k":"i1","x":0.077,"y":0.151},
{"p":6,"g":"a","k":"b","x":0.142,"y":0.236},{"p":6,"g":"a","k":"b","x":0.252,"y":0.289},{"p":6,"g":"a","k":"b","x":0.297,"y":0.192},
{"p":6,"g":"a","k":"c","x":0.379,"y":-0.002},{"p":6,"g":"a","k":"c","x":0.379,"y":0.014},{"p":6,"g":"a","k":"c","x":0.381,"y":0.032},{"p":6,"g":"a","k":"c","x":0.381,"y":0.07},{"p":6,"g":"a","k":"c","x":0.381,"y":0.09},{"p":6,"g":"a","k":"c","x":0.372,"y":0.154},{"p":6,"g":"a","k":"c","x":0.365,"y":0.197},{"p":6,"g":"a","k":"c","x":0.4,"y":0.284},{"p":6,"g":"a","k":"c","x":0.435,"y":0.197},{"p":6,"g":"a","k":"c","x":0.428,"y":0.154},{"p":6,"g":"a","k":"c","x":0.419,"y":0.09},{"p":6,"g":"a","k":"c","x":0.419,"y":0.07},{"p":6,"g":"a","k":"c","x":0.419,"y":0.032},{"p":6,"g":"a","k":"c","x":0.42,"y":0.014},{"p":6,"g":"a","k":"c","x":0.421,"y":-0.002},
{"p":6,"g":"a","k":"i2","x":0.4,"y":0.151},
{"p":6,"g":"a","k":"d","x":0.483,"y":0.227},{"p":6,"g":"a","k":"d","x":0.474,"y":0.237},{"p":6,"g":"a","k":"d","x":0.456,"y":0.254},{"p":6,"g":"a","k":"d","x":0.5,"y":0.266},{"p":6,"g":"a","k":"d","x":0.545,"y":0.254},{"p":6,"g":"a","k":"d","x":0.527,"y":0.237},{"p":6,"g":"a","k":"d","x":0.517,"y":0.227},
{"p":6,"g":"a","k":"dl","x":0.474,"y":0.237},{"p":6,"g":"a","k":"dl","x":0.467,"y":0.172},{"p":6,"g":"a","k":"dl","x":0.469,"y":0.151},{"p":6,"g":"a","k":"dl","x":0.476,"y":0.107},{"p":6,"g":"a","k":"dl","x":0.477,"y":0.098},{"p":6,"g":"a","k":"dl","x":0.479,"y":0.077},{"p":6,"g":"a","k":"dl","x":0.482,"y":0.032},{"p":6,"g":"a","k":"dl","x":0.483,"y":0.014},{"p":6,"g":"a","k":"dl","x":0.482,"y":0},
{"p":6,"g":"a","k":"dr","x":0.527,"y":0.237},{"p":6,"g":"a","k":"dr","x":0.533,"y":0.172},{"p":6,"g":"a","k":"dr","x":0.531,"y":0.151},{"p":6,"g":"a","k":"dr","x":0.524,"y":0.107},{"p":6,"g":"a","k":"dr","x":0.522,"y":0.098},{"p":6,"g":"a","k":"dr","x":0.52,"y":0.077},{"p":6,"g":"a","k":"dr","x":0.518,"y":0.032},{"p":6,"g":"a","k":"dr","x":0.518,"y":0.014},{"p":6,"g":"a","k":"dr","x":0.518,"y":0},
{"p":6,"g":"a","k":"i3","x":0.5,"y":0.284},{"p":6,"g":"a","k":"i4","x":0.5,"y":0.266},
{"p":6,"g":"b","k":"s1","x":-0.145,"y":0.242},{"p":6,"g":"b","k":"s1","x":-0.111,"y":0.249},{"p":6,"g":"b","k":"s1","x":-0.054,"y":0.261},{"p":6,"g":"b","k":"s1","x":-0.065,"y":0.266},{"p":6,"g":"b","k":"s1","x":0.03,"y":0.259},{"p":6,"g":"b","k":"s1","x":0.081,"y":0.276},{"p":6,"g":"b","k":"s1","x":0.137,"y":0.197},{"p":6,"g":"b","k":"s1","x":0.101,"y":0.152},{"p":6,"g":"b","k":"s1","x":0.098,"y":0.09},{"p":6,"g":"b","k":"s1","x":0.096,"y":0.07},{"p":6,"g":"b","k":"s1","x":0.092,"y":0.034},{"p":6,"g":"b","k":"s1","x":0.108,"y":0.018},{"p":6,"g":"b","k":"s1","x":0.12,"y":0.006},
{"p":6,"g":"b","k":"s2","x":-0.111,"y":0.249},{"p":6,"g":"b","k":"s2","x":-0.075,"y":0.176},{"p":6,"g":"b","k":"s2","x":-0.086,"y":0.156},{"p":6,"g":"b","k":"s2","x":-0.118,"y":0.1},{"p":6,"g":"b","k":"s2","x":-0.119,"y":0.081},{"p":6,"g":"b","k":"s2","x":-0.115,"y":0.032},{"p":6,"g":"b","k":"s2","x":-0.1,"y":0.011},{"p":6,"g":"b","k":"s2","x":-0.092,"y":0},
{"p":6,"g":"b","k":"s3","x":-0.118,"y":0.1},{"p":6,"g":"b","k":"s3","x":-0.135,"y":0.106},
{"p":6,"g":"b","k":"i1","x":0.07,"y":0.143},
{"p":6,"g":"b","k":"b","x":0.139,"y":0.228},{"p":6,"g":"b","k":"b","x":0.254,"y":0.287},{"p":6,"g":"b","k":"b","x":0.296,"y":0.203},
{"p":6,"g":"b","k":"c","x":0.385,"y":0.006},{"p":6,"g":"b","k":"c","x":0.385,"y":0.018},{"p":6,"g":"b","k":"c","x":0.385,"y":0.034},{"p":6,"g":"b","k":"c","x":0.382,"y":0.07},{"p":6,"g":"b","k":"c","x":0.382,"y":0.09},{"p":6,"g":"b","k":"c","x":0.375,"y":0.152},{"p":6,"g":"b","k":"c","x":0.366,"y":0.197},{"p":6,"g":"b","k":"c","x":0.4,"y":0.276},{"p":6,"g":"b","k":"c","x":0.434,"y":0.197},{"p":6,"g":"b","k":"c","x":0.426,"y":0.152},{"p":6,"g":"b","k":"c","x":0.418,"y":0.09},{"p":6,"g":"b","k":"c","x":0.418,"y":0.07},{"p":6,"g":"b","k":"c","x":0.415,"y":0.034},{"p":6,"g":"b","k":"c","x":0.414,"y":0.018},{"p":6,"g":"b","k":"c","x":0.415,"y":0.006},
{"p":6,"g":"b","k":"i2","x":0.4,"y":0.143},
{"p":6,"g":"b","k":"d","x":0.48,"y":0.242},{"p":6,"g":"b","k":"d","x":0.47,"y":0.249},{"p":6,"g":"b","k":"d","x":0.454,"y":0.261},{"p":6,"g":"b","k":"d","x":0.5,"y":0.266},{"p":6,"g":"b","k":"d","x":0.546,"y":0.261},{"p":6,"g":"b","k":"d","x":0.53,"y":0.249},{"p":6,"g":"b","k":"d","x":0.52,"y":0.242},
{"p":6,"g":"b","k":"dl","x":0.47,"y":0.249},{"p":6,"g":"b","k":"dl","x":0.467,"y":0.176},{"p":6,"g":"b","k":"dl","x":0.468,"y":0.156},{"p":6,"g":"b","k":"dl","x":0.476,"y":0.106},{"p":6,"g":"b","k":"dl","x":0.477,"y":0.1},{"p":6,"g":"b","k":"dl","x":0.479,"y":0.081},{"p":6,"g":"b","k":"dl","x":0.483,"y":0.032},{"p":6,"g":"b","k":"dl","x":0.484,"y":0.011},{"p":6,"g":"b","k":"dl","x":0.485,"y":0},
{"p":6,"g":"b","k":"dr","x":0.53,"y":0.249},{"p":6,"g":"b","k":"dr","x":0.533,"y":0.176},{"p":6,"g":"b","k":"dr","x":0.532,"y":0.156},{"p":6,"g":"b","k":"dr","x":0.524,"y":0.106},{"p":6,"g":"b","k":"dr","x":0.522,"y":0.1},{"p":6,"g":"b","k":"dr","x":0.521,"y":0.081},{"p":6,"g":"b","k":"dr","x":0.516,"y":0.032},{"p":6,"g":"b","k":"dr","x":0.515,"y":0.011},{"p":6,"g":"b","k":"dr","x":0.515,"y":0},
{"p":6,"g":"b","k":"i3","x":0.5,"y":0.276},{"p":6,"g":"b","k":"i4","x":0.5,"y":0.259},

{"p":7,"g":"a","k":"s1","x":-0.145,"y":0.237},{"p":7,"g":"a","k":"s1","x":-0.113,"y":0.246},{"p":7,"g":"a","k":"s1","x":-0.056,"y":0.26},{"p":7,"g":"a","k":"s1","x":-0.077,"y":0.273},{"p":7,"g":"a","k":"s1","x":0.035,"y":0.261},{"p":7,"g":"a","k":"s1","x":0.087,"y":0.279},{"p":7,"g":"a","k":"s1","x":0.136,"y":0.197},{"p":7,"g":"a","k":"s1","x":0.106,"y":0.156},{"p":7,"g":"a","k":"s1","x":0.098,"y":0.093},{"p":7,"g":"a","k":"s1","x":0.096,"y":0.073},{"p":7,"g":"a","k":"s1","x":0.093,"y":0.034},{"p":7,"g":"a","k":"s1","x":0.106,"y":0.016},{"p":7,"g":"a","k":"s1","x":0.116,"y":0.001},
{"p":7,"g":"a","k":"s2","x":-0.113,"y":0.246},{"p":7,"g":"a","k":"s2","x":-0.072,"y":0.178},{"p":7,"g":"a","k":"s2","x":-0.086,"y":0.156},{"p":7,"g":"a","k":"s2","x":-0.116,"y":0.103},{"p":7,"g":"a","k":"s2","x":-0.119,"y":0.083},{"p":7,"g":"a","k":"s2","x":-0.117,"y":0.034},{"p":7,"g":"a","k":"s2","x":-0.104,"y":0.014},{"p":7,"g":"a","k":"s2","x":-0.094,"y":0},
{"p":7,"g":"a","k":"s3","x":-0.116,"y":0.103},{"p":7,"g":"a","k":"s3","x":-0.134,"y":0.112},
{"p":7,"g":"a","k":"i1","x":0.074,"y":0.148},
{"p":7,"g":"a","k":"b","x":0.139,"y":0.236},{"p":7,"g":"a","k":"b","x":0.248,"y":0.291},{"p":7,"g":"a","k":"b","x":0.294,"y":0.199},
{"p":7,"g":"a","k":"c","x":0.383,"y":0.001},{"p":7,"g":"a","k":"c","x":0.384,"y":0.016},{"p":7,"g":"a","k":"c","x":0.384,"y":0.034},{"p":7,"g":"a","k":"c","x":0.383,"y":0.073},{"p":7,"g":"a","k":"c","x":0.383,"y":0.093},{"p":7,"g":"a","k":"c","x":0.374,"y":0.156},{"p":7,"g":"a","k":"c","x":0.367,"y":0.197},{"p":7,"g":"a","k":"c","x":0.4,"y":0.279},{"p":7,"g":"a","k":"c","x":0.435,"y":0.197},{"p":7,"g":"a","k":"c","x":0.427,"y":0.156},{"p":7,"g":"a","k":"c","x":0.419,"y":0.093},{"p":7,"g":"a","k":"c","x":0.418,"y":0.073},{"p":7,"g":"a","k":"c","x":0.417,"y":0.034},{"p":7,"g":"a","k":"c","x":0.418,"y":0.016},{"p":7,"g":"a","k":"c","x":0.418,"y":0.001},
{"p":7,"g":"a","k":"i2","x":0.401,"y":0.148},
{"p":7,"g":"a","k":"d","x":0.481,"y":0.237},{"p":7,"g":"a","k":"d","x":0.472,"y":0.246},{"p":7,"g":"a","k":"d","x":0.455,"y":0.26},{"p":7,"g":"a","k":"d","x":0.5,"y":0.273},{"p":7,"g":"a","k":"d","x":0.547,"y":0.26},{"p":7,"g":"a","k":"d","x":0.528,"y":0.246},{"p":7,"g":"a","k":"d","x":0.519,"y":0.237},
{"p":7,"g":"a","k":"dl","x":0.472,"y":0.246},{"p":7,"g":"a","k":"dl","x":0.469,"y":0.178},{"p":7,"g":"a","k":"dl","x":0.471,"y":0.156},{"p":7,"g":"a","k":"dl","x":0.479,"y":0.112},{"p":7,"g":"a","k":"dl","x":0.48,"y":0.103},{"p":7,"g":"a","k":"dl","x":0.481,"y":0.083},{"p":7,"g":"a","k":"dl","x":0.484,"y":0.034},{"p":7,"g":"a","k":"dl","x":0.483,"y":0.014},{"p":7,"g":"a","k":"dl","x":0.484,"y":0},
{"p":7,"g":"a","k":"dr","x":0.528,"y":0.246},{"p":7,"g":"a","k":"dr","x":0.531,"y":0.178},{"p":7,"g":"a","k":"dr","x":0.529,"y":0.156},{"p":7,"g":"a","k":"dr","x":0.521,"y":0.112},{"p":7,"g":"a","k":"dr","x":0.52,"y":0.103},{"p":7,"g":"a","k":"dr","x":0.518,"y":0.083},{"p":7,"g":"a","k":"dr","x":0.517,"y":0.034},{"p":7,"g":"a","k":"dr","x":0.517,"y":0.014},{"p":7,"g":"a","k":"dr","x":0.517,"y":0},
{"p":7,"g":"a","k":"i3","x":0.5,"y":0.279},{"p":7,"g":"a","k":"i4","x":0.5,"y":0.261},
{"p":7,"g":"b","k":"s1","x":-0.14,"y":0.231},{"p":7,"g":"b","k":"s1","x":-0.107,"y":0.24},{"p":7,"g":"b","k":"s1","x":-0.051,"y":0.255},{"p":7,"g":"b","k":"s1","x":-0.064,"y":0.26},{"p":7,"g":"b","k":"s1","x":0.023,"y":0.263},{"p":7,"g":"b","k":"s1","x":0.079,"y":0.281},{"p":7,"g":"b","k":"s1","x":0.135,"y":0.195},{"p":7,"g":"b","k":"s1","x":0.102,"y":0.149},{"p":7,"g":"b","k":"s1","x":0.097,"y":0.087},{"p":7,"g":"b","k":"s1","x":0.096,"y":0.067},{"p":7,"g":"b","k":"s1","x":0.093,"y":0.03},{"p":7,"g":"b","k":"s1","x":0.106,"y":0.013},{"p":7,"g":"b","k":"s1","x":0.116,"y":0.001},
{"p":7,"g":"b","k":"s2","x":-0.107,"y":0.24},{"p":7,"g":"b","k":"s2","x":-0.072,"y":0.171},{"p":7,"g":"b","k":"s2","x":-0.084,"y":0.151},{"p":7,"g":"b","k":"s2","x":-0.12,"y":0.094},{"p":7,"g":"b","k":"s2","x":-0.122,"y":0.075},{"p":7,"g":"b","k":"s2","x":-0.119,"y":0.03},{"p":7,"g":"b","k":"s2","x":-0.105,"y":0.011},{"p":7,"g":"b","k":"s2","x":-0.095,"y":0},
{"p":7,"g":"b","k":"s3","x":-0.12,"y":0.094},{"p":7,"g":"b","k":"s3","x":-0.134,"y":0.102},
{"p":7,"g":"b","k":"i1","x":0.073,"y":0.146},
{"p":7,"g":"b","k":"b","x":0.141,"y":0.229},{"p":7,"g":"b","k":"b","x":0.258,"y":0.287},{"p":7,"g":"b","k":"b","x":0.3,"y":0.196},
{"p":7,"g":"b","k":"c","x":0.382,"y":0.001},{"p":7,"g":"b","k":"c","x":0.383,"y":0.013},{"p":7,"g":"b","k":"c","x":0.383,"y":0.03},{"p":7,"g":"b","k":"c","x":0.382,"y":0.067},{"p":7,"g":"b","k":"c","x":0.381,"y":0.087},{"p":7,"g":"b","k":"c","x":0.374,"y":0.149},{"p":7,"g":"b","k":"c","x":0.364,"y":0.195},{"p":7,"g":"b","k":"c","x":0.4,"y":0.281},{"p":7,"g":"b","k":"c","x":0.437,"y":0.195},{"p":7,"g":"b","k":"c","x":0.427,"y":0.149},{"p":7,"g":"b","k":"c","x":0.42,"y":0.087},{"p":7,"g":"b","k":"c","x":0.42,"y":0.067},{"p":7,"g":"b","k":"c","x":0.418,"y":0.03},{"p":7,"g":"b","k":"c","x":0.418,"y":0.013},{"p":7,"g":"b","k":"c","x":0.419,"y":0.001},
{"p":7,"g":"b","k":"i2","x":0.4,"y":0.146},
{"p":7,"g":"b","k":"d","x":0.483,"y":0.231},{"p":7,"g":"b","k":"d","x":0.474,"y":0.24},{"p":7,"g":"b","k":"d","x":0.456,"y":0.255},{"p":7,"g":"b","k":"d","x":0.5,"y":0.26},{"p":7,"g":"b","k":"d","x":0.545,"y":0.255},{"p":7,"g":"b","k":"d","x":0.526,"y":0.24},{"p":7,"g":"b","k":"d","x":0.518,"y":0.231},
{"p":7,"g":"b","k":"dl","x":0.474,"y":0.24},{"p":7,"g":"b","k":"dl","x":0.466,"y":0.171},{"p":7,"g":"b","k":"dl","x":0.469,"y":0.151},{"p":7,"g":"b","k":"dl","x":0.475,"y":0.102},{"p":7,"g":"b","k":"dl","x":0.477,"y":0.094},{"p":7,"g":"b","k":"dl","x":0.479,"y":0.075},{"p":7,"g":"b","k":"dl","x":0.483,"y":0.03},{"p":7,"g":"b","k":"dl","x":0.484,"y":0.011},{"p":7,"g":"b","k":"dl","x":0.484,"y":0},
{"p":7,"g":"b","k":"dr","x":0.526,"y":0.24},{"p":7,"g":"b","k":"dr","x":0.535,"y":0.171},{"p":7,"g":"b","k":"dr","x":0.532,"y":0.151},{"p":7,"g":"b","k":"dr","x":0.525,"y":0.102},{"p":7,"g":"b","k":"dr","x":0.524,"y":0.094},{"p":7,"g":"b","k":"dr","x":0.522,"y":0.075},{"p":7,"g":"b","k":"dr","x":0.518,"y":0.03},{"p":7,"g":"b","k":"dr","x":0.517,"y":0.011},{"p":7,"g":"b","k":"dr","x":0.517,"y":0},
{"p":7,"g":"b","k":"i3","x":0.5,"y":0.281},{"p":7,"g":"b","k":"i4","x":0.499,"y":0.263},

{"p":8,"g":"a","k":"s1","x":-0.143,"y":0.23},{"p":8,"g":"a","k":"s1","x":-0.108,"y":0.241},{"p":8,"g":"a","k":"s1","x":-0.057,"y":0.256},{"p":8,"g":"a","k":"s1","x":-0.078,"y":0.263},{"p":8,"g":"a","k":"s1","x":0.023,"y":0.261},{"p":8,"g":"a","k":"s1","x":0.077,"y":0.279},{"p":8,"g":"a","k":"s1","x":0.136,"y":0.192},{"p":8,"g":"a","k":"s1","x":0.104,"y":0.152},{"p":8,"g":"a","k":"s1","x":0.099,"y":0.089},{"p":8,"g":"a","k":"s1","x":0.097,"y":0.069},{"p":8,"g":"a","k":"s1","x":0.094,"y":0.029},{"p":8,"g":"a","k":"s1","x":0.106,"y":0.012},{"p":8,"g":"a","k":"s1","x":0.117,"y":-0.001},
{"p":8,"g":"a","k":"s2","x":-0.108,"y":0.241},{"p":8,"g":"a","k":"s2","x":-0.07,"y":0.174},{"p":8,"g":"a","k":"s2","x":-0.084,"y":0.151},{"p":8,"g":"a","k":"s2","x":-0.116,"y":0.099},{"p":8,"g":"a","k":"s2","x":-0.12,"y":0.08},{"p":8,"g":"a","k":"s2","x":-0.117,"y":0.031},{"p":8,"g":"a","k":"s2","x":-0.103,"y":0.011},{"p":8,"g":"a","k":"s2","x":-0.096,"y":0},
{"p":8,"g":"a","k":"s3","x":-0.116,"y":0.099},{"p":8,"g":"a","k":"s3","x":-0.133,"y":0.109},
{"p":8,"g":"a","k":"i1","x":0.074,"y":0.143},
{"p":8,"g":"a","k":"b","x":0.137,"y":0.232},{"p":8,"g":"a","k":"b","x":0.257,"y":0.289},{"p":8,"g":"a","k":"b","x":0.3,"y":0.196},
{"p":8,"g":"a","k":"c","x":0.386,"y":-0.001},{"p":8,"g":"a","k":"c","x":0.386,"y":0.012},{"p":8,"g":"a","k":"c","x":0.386,"y":0.029},{"p":8,"g":"a","k":"c","x":0.384,"y":0.069},{"p":8,"g":"a","k":"c","x":0.383,"y":0.089},{"p":8,"g":"a","k":"c","x":0.377,"y":0.152},{"p":8,"g":"a","k":"c","x":0.368,"y":0.192},{"p":8,"g":"a","k":"c","x":0.4,"y":0.279},{"p":8,"g":"a","k":"c","x":0.431,"y":0.192},{"p":8,"g":"a","k":"c","x":0.422,"y":0.152},{"p":8,"g":"a","k":"c","x":0.416,"y":0.089},{"p":8,"g":"a","k":"c","x":0.415,"y":0.069},{"p":8,"g":"a","k":"c","x":0.414,"y":0.029},{"p":8,"g":"a","k":"c","x":0.413,"y":0.012},{"p":8,"g":"a","k":"c","x":0.414,"y":-0.001},
{"p":8,"g":"a","k":"i2","x":0.4,"y":0.143},
{"p":8,"g":"a","k":"d","x":0.477,"y":0.23},{"p":8,"g":"a","k":"d","x":0.466,"y":0.241},{"p":8,"g":"a","k":"d","x":0.451,"y":0.256},{"p":8,"g":"a","k":"d","x":0.5,"y":0.263},{"p":8,"g":"a","k":"d","x":0.548,"y":0.256},{"p":8,"g":"a","k":"d","x":0.533,"y":0.241},{"p":8,"g":"a","k":"d","x":0.522,"y":0.23},
{"p":8,"g":"a","k":"dl","x":0.466,"y":0.241},{"p":8,"g":"a","k":"dl","x":0.463,"y":0.174},{"p":8,"g":"a","k":"dl","x":0.465,"y":0.151},{"p":8,"g":"a","k":"dl","x":0.475,"y":0.109},{"p":8,"g":"a","k":"dl","x":0.478,"y":0.099},{"p":8,"g":"a","k":"dl","x":0.479,"y":0.08},{"p":8,"g":"a","k":"dl","x":0.485,"y":0.031},{"p":8,"g":"a","k":"dl","x":0.487,"y":0.011},{"p":8,"g":"a","k":"dl","x":0.487,"y":0},
{"p":8,"g":"a","k":"dr","x":0.533,"y":0.241},{"p":8,"g":"a","k":"dr","x":0.536,"y":0.174},{"p":8,"g":"a","k":"dr","x":0.534,"y":0.151},{"p":8,"g":"a","k":"dr","x":0.523,"y":0.109},{"p":8,"g":"a","k":"dr","x":0.521,"y":0.099},{"p":8,"g":"a","k":"dr","x":0.519,"y":0.08},{"p":8,"g":"a","k":"dr","x":0.514,"y":0.031},{"p":8,"g":"a","k":"dr","x":0.512,"y":0.011},{"p":8,"g":"a","k":"dr","x":0.512,"y":0},
{"p":8,"g":"a","k":"i3","x":0.5,"y":0.279},{"p":8,"g":"a","k":"i4","x":0.5,"y":0.261},
{"p":8,"g":"b","k":"s1","x":-0.142,"y":0.238},{"p":8,"g":"b","k":"s1","x":-0.112,"y":0.244},{"p":8,"g":"b","k":"s1","x":-0.049,"y":0.258},{"p":8,"g":"b","k":"s1","x":-0.064,"y":0.27},{"p":8,"g":"b","k":"s1","x":0.035,"y":0.264},{"p":8,"g":"b","k":"s1","x":0.088,"y":0.281},{"p":8,"g":"b","k":"s1","x":0.137,"y":0.199},{"p":8,"g":"b","k":"s1","x":0.103,"y":0.155},{"p":8,"g":"b","k":"s1","x":0.097,"y":0.091},{"p":8,"g":"b","k":"s1","x":0.095,"y":0.071},{"p":8,"g":"b","k":"s1","x":0.092,"y":0.037},{"p":8,"g":"b","k":"s1","x":0.106,"y":0.018},{"p":8,"g":"b","k":"s1","x":0.115,"y":0.005},
{"p":8,"g":"b","k":"s2","x":-0.112,"y":0.244},{"p":8,"g":"b","k":"s2","x":-0.075,"y":0.174},{"p":8,"g":"b","k":"s2","x":-0.086,"y":0.156},{"p":8,"g":"b","k":"s2","x":-0.118,"y":0.097},{"p":8,"g":"b","k":"s2","x":-0.12,"y":0.077},{"p":8,"g":"b","k":"s2","x":-0.117,"y":0.034},{"p":8,"g":"b","k":"s2","x":-0.104,"y":0.014},{"p":8,"g":"b","k":"s2","x":-0.092,"y":0},
{"p":8,"g":"b","k":"s3","x":-0.118,"y":0.097},{"p":8,"g":"b","k":"s3","x":-0.134,"y":0.106},
{"p":8,"g":"b","k":"i1","x":0.072,"y":0.15},
{"p":8,"g":"b","k":"b","x":0.144,"y":0.232},{"p":8,"g":"b","k":"b","x":0.248,"y":0.288},{"p":8,"g":"b","k":"b","x":0.293,"y":0.199},
{"p":8,"g":"b","k":"c","x":0.377,"y":0.005},{"p":8,"g":"b","k":"c","x":0.378,"y":0.018},{"p":8,"g":"b","k":"c","x":0.379,"y":0.037},{"p":8,"g":"b","k":"c","x":0.379,"y":0.071},{"p":8,"g":"b","k":"c","x":0.379,"y":0.091},{"p":8,"g":"b","k":"c","x":0.368,"y":0.155},{"p":8,"g":"b","k":"c","x":0.361,"y":0.199},{"p":8,"g":"b","k":"c","x":0.4,"y":0.281},{"p":8,"g":"b","k":"c","x":0.438,"y":0.199},{"p":8,"g":"b","k":"c","x":0.431,"y":0.155},{"p":8,"g":"b","k":"c","x":0.421,"y":0.091},{"p":8,"g":"b","k":"c","x":0.42,"y":0.071},{"p":8,"g":"b","k":"c","x":0.42,"y":0.037},{"p":8,"g":"b","k":"c","x":0.421,"y":0.018},{"p":8,"g":"b","k":"c","x":0.422,"y":0.005},
{"p":8,"g":"b","k":"i2","x":0.4,"y":0.15},
{"p":8,"g":"b","k":"d","x":0.485,"y":0.238},{"p":8,"g":"b","k":"d","x":0.477,"y":0.244},{"p":8,"g":"b","k":"d","x":0.458,"y":0.258},{"p":8,"g":"b","k":"d","x":0.5,"y":0.27},{"p":8,"g":"b","k":"d","x":0.542,"y":0.258},{"p":8,"g":"b","k":"d","x":0.523,"y":0.244},{"p":8,"g":"b","k":"d","x":0.515,"y":0.238},
{"p":8,"g":"b","k":"dl","x":0.477,"y":0.244},{"p":8,"g":"b","k":"dl","x":0.47,"y":0.174},{"p":8,"g":"b","k":"dl","x":0.472,"y":0.156},{"p":8,"g":"b","k":"dl","x":0.477,"y":0.106},{"p":8,"g":"b","k":"dl","x":0.476,"y":0.097},{"p":8,"g":"b","k":"dl","x":0.478,"y":0.077},{"p":8,"g":"b","k":"dl","x":0.48,"y":0.034},{"p":8,"g":"b","k":"dl","x":0.479,"y":0.014},{"p":8,"g":"b","k":"dl","x":0.479,"y":0},
{"p":8,"g":"b","k":"dr","x":0.523,"y":0.244},{"p":8,"g":"b","k":"dr","x":0.53,"y":0.174},{"p":8,"g":"b","k":"dr","x":0.527,"y":0.156},{"p":8,"g":"b","k":"dr","x":0.522,"y":0.106},{"p":8,"g":"b","k":"dr","x":0.523,"y":0.097},{"p":8,"g":"b","k":"dr","x":0.521,"y":0.077},{"p":8,"g":"b","k":"dr","x":0.519,"y":0.034},{"p":8,"g":"b","k":"dr","x":0.52,"y":0.014},{"p":8,"g":"b","k":"dr","x":0.52,"y":0},
{"p":8,"g":"b","k":"i3","x":0.5,"y":0.281},{"p":8,"g":"b","k":"i4","x":0.5,"y":0.264},

{"p":9,"g":"a","k":"s1","x":-0.141,"y":0.234},{"p":9,"g":"a","k":"s1","x":-0.109,"y":0.242},{"p":9,"g":"a","k":"s1","x":-0.053,"y":0.257},{"p":9,"g":"a","k":"s1","x":-0.072,"y":0.264},{"p":9,"g":"a","k":"s1","x":0.027,"y":0.261},{"p":9,"g":"a","k":"s1","x":0.088,"y":0.279},{"p":9,"g":"a","k":"s1","x":0.133,"y":0.196},{"p":9,"g":"a","k":"s1","x":0.103,"y":0.152},{"p":9,"g":"a","k":"s1","x":0.098,"y":0.087},{"p":9,"g":"a","k":"s1","x":0.097,"y":0.068},{"p":9,"g":"a","k":"s1","x":0.094,"y":0.03},{"p":9,"g":"a","k":"s1","x":0.107,"y":0.012},{"p":9,"g":"a","k":"s1","x":0.116,"y":0},
{"p":9,"g":"a","k":"s2","x":-0.109,"y":0.242},{"p":9,"g":"a","k":"s2","x":-0.073,"y":0.173},{"p":9,"g":"a","k":"s2","x":-0.086,"y":0.152},{"p":9,"g":"a","k":"s2","x":-0.118,"y":0.099},{"p":9,"g":"a","k":"s2","x":-0.121,"y":0.079},{"p":9,"g":"a","k":"s2","x":-0.118,"y":0.031},{"p":9,"g":"a","k":"s2","x":-0.103,"y":0.011},{"p":9,"g":"a","k":"s2","x":-0.094,"y":0},
{"p":9,"g":"a","k":"s3","x":-0.118,"y":0.099},{"p":9,"g":"a","k":"s3","x":-0.134,"y":0.106},
{"p":9,"g":"a","k":"i1","x":0.074,"y":0.15},
{"p":9,"g":"a","k":"b","x":0.14,"y":0.23},{"p":9,"g":"a","k":"b","x":0.253,"y":0.286},{"p":9,"g":"a","k":"b","x":0.293,"y":0.202},
{"p":9,"g":"a","k":"c","x":0.38,"y":0},{"p":9,"g":"a","k":"c","x":0.381,"y":0.012},{"p":9,"g":"a","k":"c","x":0.382,"y":0.03},{"p":9,"g":"a","k":"c","x":0.381,"y":0.068},{"p":9,"g":"a","k":"c","x":0.38,"y":0.087},{"p":9,"g":"a","k":"c","x":0.373,"y":0.152},{"p":9,"g":"a","k":"c","x":0.365,"y":0.196},{"p":9,"g":"a","k":"c","x":0.4,"y":0.279},{"p":9,"g":"a","k":"c","x":0.435,"y":0.196},{"p":9,"g":"a","k":"c","x":0.427,"y":0.152},{"p":9,"g":"a","k":"c","x":0.42,"y":0.087},{"p":9,"g":"a","k":"c","x":0.418,"y":0.068},{"p":9,"g":"a","k":"c","x":0.418,"y":0.03},{"p":9,"g":"a","k":"c","x":0.419,"y":0.012},{"p":9,"g":"a","k":"c","x":0.42,"y":0},
{"p":9,"g":"a","k":"i2","x":0.399,"y":0.15},
{"p":9,"g":"a","k":"d","x":0.479,"y":0.234},{"p":9,"g":"a","k":"d","x":0.47,"y":0.242},{"p":9,"g":"a","k":"d","x":0.454,"y":0.257},{"p":9,"g":"a","k":"d","x":0.5,"y":0.264},{"p":9,"g":"a","k":"d","x":0.546,"y":0.257},{"p":9,"g":"a","k":"d","x":0.529,"y":0.242},{"p":9,"g":"a","k":"d","x":0.52,"y":0.234},
{"p":9,"g":"a","k":"dl","x":0.47,"y":0.242},{"p":9,"g":"a","k":"dl","x":0.468,"y":0.173},{"p":9,"g":"a","k":"dl","x":0.47,"y":0.152},{"p":9,"g":"a","k":"dl","x":0.477,"y":0.106},{"p":9,"g":"a","k":"dl","x":0.478,"y":0.099},{"p":9,"g":"a","k":"dl","x":0.48,"y":0.079},{"p":9,"g":"a","k":"dl","x":0.484,"y":0.031},{"p":9,"g":"a","k":"dl","x":0.485,"y":0.011},{"p":9,"g":"a","k":"dl","x":0.485,"y":0},
{"p":9,"g":"a","k":"dr","x":0.529,"y":0.242},{"p":9,"g":"a","k":"dr","x":0.532,"y":0.173},{"p":9,"g":"a","k":"dr","x":0.529,"y":0.152},{"p":9,"g":"a","k":"dr","x":0.523,"y":0.106},{"p":9,"g":"a","k":"dr","x":0.522,"y":0.099},{"p":9,"g":"a","k":"dr","x":0.52,"y":0.079},{"p":9,"g":"a","k":"dr","x":0.516,"y":0.031},{"p":9,"g":"a","k":"dr","x":0.515,"y":0.011},{"p":9,"g":"a","k":"dr","x":0.515,"y":0},
{"p":9,"g":"a","k":"i3","x":0.5,"y":0.279},{"p":9,"g":"a","k":"i4","x":0.5,"y":0.261},
{"p":9,"g":"b","k":"s1","x":-0.145,"y":0.235},{"p":9,"g":"b","k":"s1","x":-0.112,"y":0.243},{"p":9,"g":"b","k":"s1","x":-0.054,"y":0.259},{"p":9,"g":"b","k":"s1","x":-0.069,"y":0.269},{"p":9,"g":"b","k":"s1","x":0.032,"y":0.265},{"p":9,"g":"b","k":"s1","x":0.078,"y":0.281},{"p":9,"g":"b","k":"s1","x":0.139,"y":0.196},{"p":9,"g":"b","k":"s1","x":0.104,"y":0.153},{"p":9,"g":"b","k":"s1","x":0.097,"y":0.093},{"p":9,"g":"b","k":"s1","x":0.095,"y":0.072},{"p":9,"g":"b","k":"s1","x":0.092,"y":0.035},{"p":9,"g":"b","k":"s1","x":0.105,"y":0.018},{"p":9,"g":"b","k":"s1","x":0.116,"y":0.003},
{"p":9,"g":"b","k":"s2","x":-0.112,"y":0.243},{"p":9,"g":"b","k":"s2","x":-0.071,"y":0.175},{"p":9,"g":"b","k":"s2","x":-0.084,"y":0.155},{"p":9,"g":"b","k":"s2","x":-0.117,"y":0.098},{"p":9,"g":"b","k":"s2","x":-0.119,"y":0.079},{"p":9,"g":"b","k":"s2","x":-0.117,"y":0.032},{"p":9,"g":"b","k":"s2","x":-0.105,"y":0.014},{"p":9,"g":"b","k":"s2","x":-0.095,"y":0},
{"p":9,"g":"b","k":"s3","x":-0.117,"y":0.098},{"p":9,"g":"b","k":"s3","x":-0.133,"y":0.107},
{"p":9,"g":"b","k":"i1","x":0.072,"y":0.143},
{"p":9,"g":"b","k":"b","x":0.14,"y":0.235},{"p":9,"g":"b","k":"b","x":0.252,"y":0.292},{"p":9,"g":"b","k":"b","x":0.299,"y":0.193},
{"p":9,"g":"b","k":"c","x":0.383,"y":0.003},{"p":9,"g":"b","k":"c","x":0.384,"y":0.018},{"p":9,"g":"b","k":"c","x":0.384,"y":0.035},{"p":9,"g":"b","k":"c","x":0.382,"y":0.072},{"p":9,"g":"b","k":"c","x":0.382,"y":0.093},{"p":9,"g":"b","k":"c","x":0.373,"y":0.153},{"p":9,"g":"b","k":"c","x":0.365,"y":0.196},{"p":9,"g":"b","k":"c","x":0.4,"y":0.281},{"p":9,"g":"b","k":"c","x":0.435,"y":0.196},{"p":9,"g":"b","k":"c","x":0.427,"y":0.153},{"p":9,"g":"b","k":"c","x":0.418,"y":0.093},{"p":9,"g":"b","k":"c","x":0.418,"y":0.072},{"p":9,"g":"b","k":"c","x":0.416,"y":0.035},{"p":9,"g":"b","k":"c","x":0.416,"y":0.018},{"p":9,"g":"b","k":"c","x":0.417,"y":0.003},
{"p":9,"g":"b","k":"i2","x":0.401,"y":0.143},
{"p":9,"g":"b","k":"d","x":0.482,"y":0.235},{"p":9,"g":"b","k":"d","x":0.472,"y":0.243},{"p":9,"g":"b","k":"d","x":0.455,"y":0.259},{"p":9,"g":"b","k":"d","x":0.5,"y":0.269},{"p":9,"g":"b","k":"d","x":0.545,"y":0.259},{"p":9,"g":"b","k":"d","x":0.528,"y":0.243},{"p":9,"g":"b","k":"d","x":0.518,"y":0.235},
{"p":9,"g":"b","k":"dl","x":0.472,"y":0.243},{"p":9,"g":"b","k":"dl","x":0.466,"y":0.175},{"p":9,"g":"b","k":"dl","x":0.468,"y":0.155},{"p":9,"g":"b","k":"dl","x":0.477,"y":0.107},{"p":9,"g":"b","k":"dl","x":0.478,"y":0.098},{"p":9,"g":"b","k":"dl","x":0.479,"y":0.079},{"p":9,"g":"b","k":"dl","x":0.482,"y":0.032},{"p":9,"g":"b","k":"dl","x":0.483,"y":0.014},{"p":9,"g":"b","k":"dl","x":0.483,"y":0},
{"p":9,"g":"b","k":"dr","x":0.528,"y":0.243},{"p":9,"g":"b","k":"dr","x":0.534,"y":0.175},{"p":9,"g":"b","k":"dr","x":0.532,"y":0.155},{"p":9,"g":"b","k":"dr","x":0.523,"y":0.107},{"p":9,"g":"b","k":"dr","x":0.522,"y":0.098},{"p":9,"g":"b","k":"dr","x":0.521,"y":0.079},{"p":9,"g":"b","k":"dr","x":0.518,"y":0.032},{"p":9,"g":"b","k":"dr","x":0.517,"y":0.014},{"p":9,"g":"b","k":"dr","x":0.517,"y":0},
{"p":9,"g":"b","k":"i3","x":0.5,"y":0.281},{"p":9,"g":"b","k":"i4","x":0.5,"y":0.265},

{"p":10,"g":"a","k":"s1","x":-0.144,"y":0.241},{"p":10,"g":"a","k":"s1","x":-0.111,"y":0.247},{"p":10,"g":"a","k":"s1","x":-0.053,"y":0.259},{"p":10,"g":"a","k":"s1","x":-0.071,"y":0.264},{"p":10,"g":"a","k":"s1","x":0.022,"y":0.266},{"p":10,"g":"a","k":"s1","x":0.078,"y":0.28},{"p":10,"g":"a","k":"s1","x":0.138,"y":0.198},{"p":10,"g":"a","k":"s1","x":0.103,"y":0.158},{"p":10,"g":"a","k":"s1","x":0.096,"y":0.096},{"p":10,"g":"a","k":"s1","x":0.095,"y":0.074},{"p":10,"g":"a","k":"s1","x":0.092,"y":0.037},{"p":10,"g":"a","k":"s1","x":0.105,"y":0.016},{"p":10,"g":"a","k":"s1","x":0.114,"y":0.002},
{"p":10,"g":"a","k":"s2","x":-0.111,"y":0.247},{"p":10,"g":"a","k":"s2","x":-0.072,"y":0.178},{"p":10,"g":"a","k":"s2","x":-0.087,"y":0.156},{"p":10,"g":"a","k":"s2","x":-0.118,"y":0.104},{"p":10,"g":"a","k":"s2","x":-0.117,"y":0.085},{"p":10,"g":"a","k":"s2","x":-0.115,"y":0.037},{"p":10,"g":"a","k":"s2","x":-0.102,"y":0.015},{"p":10,"g":"a","k":"s2","x":-0.093,"y":0},
{"p":10,"g":"a","k":"s3","x":-0.118,"y":0.104},{"p":10,"g":"a","k":"s3","x":-0.134,"y":0.115},
{"p":10,"g":"a","k":"i1","x":0.075,"y":0.152},
{"p":10,"g":"a","k":"b","x":0.141,"y":0.237},{"p":10,"g":"a","k":"b","x":0.253,"y":0.295},{"p":10,"g":"a","k":"b","x":0.298,"y":0.202},
{"p":10,"g":"a","k":"c","x":0.381,"y":0.002},{"p":10,"g":"a","k":"c","x":0.381,"y":0.016},{"p":10,"g":"a","k":"c","x":0.382,"y":0.037},{"p":10,"g":"a","k":"c","x":0.38,"y":0.074},{"p":10,"g":"a","k":"c","x":0.379,"y":0.096},{"p":10,"g":"a","k":"c","x":0.371,"y":0.158},{"p":10,"g":"a","k":"c","x":0.364,"y":0.198},{"p":10,"g":"a","k":"c","x":0.4,"y":0.28},{"p":10,"g":"a","k":"c","x":0.435,"y":0.198},{"p":10,"g":"a","k":"c","x":0.428,"y":0.158},{"p":10,"g":"a","k":"c","x":0.421,"y":0.096},{"p":10,"g":"a","k":"c","x":0.42,"y":0.074},{"p":10,"g":"a","k":"c","x":0.418,"y":0.037},{"p":10,"g":"a","k":"c","x":0.419,"y":0.016},{"p":10,"g":"a","k":"c","x":0.419,"y":0.002},
{"p":10,"g":"a","k":"i2","x":0.4,"y":0.152},
{"p":10,"g":"a","k":"d","x":0.48,"y":0.241},{"p":10,"g":"a","k":"d","x":0.473,"y":0.247},{"p":10,"g":"a","k":"d","x":0.459,"y":0.259},{"p":10,"g":"a","k":"d","x":0.5,"y":0.264},{"p":10,"g":"a","k":"d","x":0.539,"y":0.259},{"p":10,"g":"a","k":"d","x":0.527,"y":0.247},{"p":10,"g":"a","k":"d","x":0.519,"y":0.241},
{"p":10,"g":"a","k":"dl","x":0.473,"y":0.247},{"p":10,"g":"a","k":"dl","x":0.472,"y":0.178},{"p":10,"g":"a","k":"dl","x":0.474,"y":0.156},{"p":10,"g":"a","k":"dl","x":0.477,"y":0.115},{"p":10,"g":"a","k":"dl","x":0.477,"y":0.104},{"p":10,"g":"a","k":"dl","x":0.479,"y":0.085},{"p":10,"g":"a","k":"dl","x":0.48,"y":0.037},{"p":10,"g":"a","k":"dl","x":0.48,"y":0.015},{"p":10,"g":"a","k":"dl","x":0.48,"y":0},
{"p":10,"g":"a","k":"dr","x":0.527,"y":0.247},{"p":10,"g":"a","k":"dr","x":0.527,"y":0.178},{"p":10,"g":"a","k":"dr","x":0.525,"y":0.156},{"p":10,"g":"a","k":"dr","x":0.522,"y":0.115},{"p":10,"g":"a","k":"dr","x":0.523,"y":0.104},{"p":10,"g":"a","k":"dr","x":0.521,"y":0.085},{"p":10,"g":"a","k":"dr","x":0.519,"y":0.037},{"p":10,"g":"a","k":"dr","x":0.519,"y":0.015},{"p":10,"g":"a","k":"dr","x":0.519,"y":0},
{"p":10,"g":"a","k":"i3","x":0.5,"y":0.28},{"p":10,"g":"a","k":"i4","x":0.5,"y":0.266},
{"p":10,"g":"b","k":"s1","x":-0.14,"y":0.227},{"p":10,"g":"b","k":"s1","x":-0.107,"y":0.239},{"p":10,"g":"b","k":"s1","x":-0.054,"y":0.256},{"p":10,"g":"b","k":"s1","x":-0.07,"y":0.268},{"p":10,"g":"b","k":"s1","x":0.036,"y":0.259},{"p":10,"g":"b","k":"s1","x":0.087,"y":0.28},{"p":10,"g":"b","k":"s1","x":0.134,"y":0.193},{"p":10,"g":"b","k":"s1","x":0.103,"y":0.148},{"p":10,"g":"b","k":"s1","x":0.1,"y":0.084},{"p":10,"g":"b","k":"s1","x":0.096,"y":0.066},{"p":10,"g":"b","k":"s1","x":0.094,"y":0.028},{"p":10,"g":"b","k":"s1","x":0.107,"y":0.014},{"p":10,"g":"b","k":"s1","x":0.118,"y":0.001},
{"p":10,"g":"b","k":"s2","x":-0.107,"y":0.239},{"p":10,"g":"b","k":"s2","x":-0.074,"y":0.171},{"p":10,"g":"b","k":"s2","x":-0.083,"y":0.151},{"p":10,"g":"b","k":"s2","x":-0.117,"y":0.092},{"p":10,"g":"b","k":"s2","x":-0.122,"y":0.073},{"p":10,"g":"b","k":"s2","x":-0.119,"y":0.027},{"p":10,"g":"b","k":"s2","x":-0.105,"y":0.009},{"p":10,"g":"b","k":"s2","x":-0.097,"y":0},
{"p":10,"g":"b","k":"s3","x":-0.117,"y":0.092},{"p":10,"g":"b","k":"s3","x":-0.135,"y":0.099},
{"p":10,"g":"b","k":"i1","x":0.071,"y":0.142},
{"p":10,"g":"b","k":"b","x":0.14,"y":0.228},{"p":10,"g":"b","k":"b","x":0.252,"y":0.283},{"p":10,"g":"b","k":"b","x":0.294,"y":0.192},
{"p":10,"g":"b","k":"c","x":0.382,"y":0.001},{"p":10,"g":"b","k":"c","x":0.383,"y":0.014},{"p":10,"g":"b","k":"c","x":0.383,"y":0.028},{"p":10,"g":"b","k":"c","x":0.383,"y":0.066},{"p":10,"g":"b","k":"c","x":0.382,"y":0.084},{"p":10,"g":"b","k":"c","x":0.375,"y":0.148},{"p":10,"g":"b","k":"c","x":0.364,"y":0.193},{"p":10,"g":"b","k":"c","x":0.4,"y":0.28},{"p":10,"g":"b","k":"c","x":0.435,"y":0.193},{"p":10,"g":"b","k":"c","x":0.424,"y":0.148},{"p":10,"g":"b","k":"c","x":0.418,"y":0.084},{"p":10,"g":"b","k":"c","x":0.417,"y":0.066},{"p":10,"g":"b","k":"c","x":0.417,"y":0.028},{"p":10,"g":"b","k":"c","x":0.417,"y":0.014},{"p":10,"g":"b","k":"c","x":0.418,"y":0.001},
{"p":10,"g":"b","k":"i2","x":0.399,"y":0.142},
{"p":10,"g":"b","k":"d","x":0.48,"y":0.227},{"p":10,"g":"b","k":"d","x":0.469,"y":0.239},{"p":10,"g":"b","k":"d","x":0.449,"y":0.256},{"p":10,"g":"b","k":"d","x":0.5,"y":0.268},{"p":10,"g":"b","k":"d","x":0.549,"y":0.256},{"p":10,"g":"b","k":"d","x":0.531,"y":0.239},{"p":10,"g":"b","k":"d","x":0.519,"y":0.227},
{"p":10,"g":"b","k":"dl","x":0.469,"y":0.239},{"p":10,"g":"b","k":"dl","x":0.459,"y":0.171},{"p":10,"g":"b","k":"dl","x":0.462,"y":0.151},{"p":10,"g":"b","k":"dl","x":0.474,"y":0.099},{"p":10,"g":"b","k":"dl","x":0.475,"y":0.092},{"p":10,"g":"b","k":"dl","x":0.478,"y":0.073},{"p":10,"g":"b","k":"dl","x":0.483,"y":0.027},{"p":10,"g":"b","k":"dl","x":0.485,"y":0.009},{"p":10,"g":"b","k":"dl","x":0.485,"y":0},
{"p":10,"g":"b","k":"dr","x":0.531,"y":0.239},{"p":10,"g":"b","k":"dr","x":0.541,"y":0.171},{"p":10,"g":"b","k":"dr","x":0.538,"y":0.151},{"p":10,"g":"b","k":"dr","x":0.525,"y":0.099},{"p":10,"g":"b","k":"dr","x":0.523,"y":0.092},{"p":10,"g":"b","k":"dr","x":0.522,"y":0.073},{"p":10,"g":"b","k":"dr","x":0.516,"y":0.027},{"p":10,"g":"b","k":"dr","x":0.515,"y":0.009},{"p":10,"g":"b","k":"dr","x":0.515,"y":0},
{"p":10,"g":"b","k":"i3","x":0.5,"y":0.28},{"p":10,"g":"b","k":"i4","x":0.498,"y":0.259}
]},
"spacing":14,
"vconcat":[
{"hconcat":[
{"title":{"text":"PC = \u00a01"},"width":573,"height":264,"data":{"name":"sk"},"transform":[{"filter":"datum.p == 1"}],
"encoding":{"x":{"field":"x","type":"quantitative","scale":{"domain":[-0.178,0.582],"nice":false,"zero":false},"title":null},"y":{"field":"y","type":"quantitative","scale":{"domain":[-0.0155,0.336],"nice":false,"zero":false},"title":null},"color":{"field":"g","type":"nominal","scale":{"domain":["a","b"],"range":["#F8766D","#00BFC4"]},"legend":null}},
"layer":[{"mark":{"type":"line","strokeWidth":1},"encoding":{"detail":{"field":"k","type":"nominal"},"order":{"value":null}}},{"mark":{"type":"point","filled":true,"size":16,"opacity":1}}]},
{"title":{"text":"PC = \u00a02"},"width":573,"height":264,"data":{"name":"sk"},"transform":[{"filter":"datum.p == 2"}],
"encoding":{"x":{"field":"x","type":"quantitative","scale":{"domain":[-0.178,0.582],"nice":false,"zero":false},"title":null},"y":{"field":"y","type":"quantitative","scale":{"domain":[-0.0155,0.336],"nice":false,"zero":false},"title":null},"color":{"field":"g","type":"nominal","scale":{"domain":["a","b"],"range":["#F8766D","#00BFC4"]},"legend":null}},
"layer":[{"mark":{"type":"line","strokeWidth":1},"encoding":{"detail":{"field":"k","type":"nominal"},"order":{"value":null}}},{"mark":{"type":"point","filled":true,"size":16,"opacity":1}}]}
],"spacing":20,"center":true},
{"spacing":9,"vconcat":[
{"hconcat":[
{"title":{"text":"PC = \u00a03"},"width":573,"height":264,"data":{"name":"sk"},"transform":[{"filter":"datum.p == 3"}],
"encoding":{"x":{"field":"x","type":"quantitative","scale":{"domain":[-0.178,0.582],"nice":false,"zero":false},"title":null},"y":{"field":"y","type":"quantitative","scale":{"domain":[-0.0155,0.336],"nice":false,"zero":false},"title":null},"color":{"field":"g","type":"nominal","scale":{"domain":["a","b"],"range":["#F8766D","#00BFC4"]},"legend":null}},
"layer":[{"mark":{"type":"line","strokeWidth":1},"encoding":{"detail":{"field":"k","type":"nominal"},"order":{"value":null}}},{"mark":{"type":"point","filled":true,"size":16,"opacity":1}}]},
{"title":{"text":"PC = \u00a04"},"width":573,"height":272,"data":{"name":"sk"},"transform":[{"filter":"datum.p == 4"}],
"encoding":{"x":{"field":"x","type":"quantitative","scale":{"domain":[-0.178,0.582],"nice":false,"zero":false},"title":null},"y":{"field":"y","type":"quantitative","scale":{"domain":[-0.0255,0.336],"nice":false,"zero":false},"title":null},"color":{"field":"g","type":"nominal","scale":{"domain":["a","b"],"range":["#F8766D","#00BFC4"]},"legend":null}},
"layer":[{"mark":{"type":"line","strokeWidth":1},"encoding":{"detail":{"field":"k","type":"nominal"},"order":{"value":null}}},{"mark":{"type":"point","filled":true,"size":16,"opacity":1}}]}
],"spacing":20,"center":true},
{"spacing":16,"vconcat":[
{"hconcat":[
{"title":{"text":"PC = \u00a05"},"width":573,"height":272,"data":{"name":"sk"},"transform":[{"filter":"datum.p == 5"}],
"encoding":{"x":{"field":"x","type":"quantitative","scale":{"domain":[-0.178,0.582],"nice":false,"zero":false},"title":null},"y":{"field":"y","type":"quantitative","scale":{"domain":[-0.0255,0.336],"nice":false,"zero":false},"title":null},"color":{"field":"g","type":"nominal","scale":{"domain":["a","b"],"range":["#F8766D","#00BFC4"]},"legend":null}},
"layer":[{"mark":{"type":"line","strokeWidth":1},"encoding":{"detail":{"field":"k","type":"nominal"},"order":{"value":null}}},{"mark":{"type":"point","filled":true,"size":16,"opacity":1}}]},
{"title":{"text":"PC = \u00a06"},"width":573,"height":272,"data":{"name":"sk"},"transform":[{"filter":"datum.p == 6"}],
"encoding":{"x":{"field":"x","type":"quantitative","scale":{"domain":[-0.178,0.582],"nice":false,"zero":false},"title":null},"y":{"field":"y","type":"quantitative","scale":{"domain":[-0.0255,0.336],"nice":false,"zero":false},"title":null},"color":{"field":"g","type":"nominal","scale":{"domain":["a","b"],"range":["#F8766D","#00BFC4"]},"legend":null}},
"layer":[{"mark":{"type":"line","strokeWidth":1},"encoding":{"detail":{"field":"k","type":"nominal"},"order":{"value":null}}},{"mark":{"type":"point","filled":true,"size":16,"opacity":1}}]}
],"spacing":20,"center":true},
{"spacing":20,"vconcat":[
{"hconcat":[
{"title":{"text":"PC = \u00a07"},"width":573,"height":264,"data":{"name":"sk"},"transform":[{"filter":"datum.p == 7"}],
"encoding":{"x":{"field":"x","type":"quantitative","scale":{"domain":[-0.178,0.582],"nice":false,"zero":false},"title":null},"y":{"field":"y","type":"quantitative","scale":{"domain":[-0.0155,0.336],"nice":false,"zero":false},"title":null},"color":{"field":"g","type":"nominal","scale":{"domain":["a","b"],"range":["#F8766D","#00BFC4"]},"legend":null}},
"layer":[{"mark":{"type":"line","strokeWidth":1},"encoding":{"detail":{"field":"k","type":"nominal"},"order":{"value":null}}},{"mark":{"type":"point","filled":true,"size":16,"opacity":1}}]},
{"title":{"text":"PC = \u00a08"},"width":573,"height":272,"data":{"name":"sk"},"transform":[{"filter":"datum.p == 8"}],
"encoding":{"x":{"field":"x","type":"quantitative","scale":{"domain":[-0.178,0.582],"nice":false,"zero":false},"title":null},"y":{"field":"y","type":"quantitative","scale":{"domain":[-0.0255,0.336],"nice":false,"zero":false},"title":null},"color":{"field":"g","type":"nominal","scale":{"domain":["a","b"],"range":["#F8766D","#00BFC4"]},"legend":null}},
"layer":[{"mark":{"type":"line","strokeWidth":1},"encoding":{"detail":{"field":"k","type":"nominal"},"order":{"value":null}}},{"mark":{"type":"point","filled":true,"size":16,"opacity":1}}]}
],"spacing":20,"center":true},
{"hconcat":[
{"title":{"text":"PC = \u00a09"},"width":573,"height":264,"data":{"name":"sk"},"transform":[{"filter":"datum.p == 9"}],
"encoding":{"x":{"field":"x","type":"quantitative","scale":{"domain":[-0.178,0.582],"nice":false,"zero":false},"title":null},"y":{"field":"y","type":"quantitative","scale":{"domain":[-0.0155,0.336],"nice":false,"zero":false},"title":null},"color":{"field":"g","type":"nominal","scale":{"domain":["a","b"],"range":["#F8766D","#00BFC4"]},"legend":null}},
"layer":[{"mark":{"type":"line","strokeWidth":1},"encoding":{"detail":{"field":"k","type":"nominal"},"order":{"value":null}}},{"mark":{"type":"point","filled":true,"size":16,"opacity":1}}]},
{"title":{"text":"PC = \u00a010"},"width":573,"height":264,"data":{"name":"sk"},"transform":[{"filter":"datum.p == 10"}],
"encoding":{"x":{"field":"x","type":"quantitative","scale":{"domain":[-0.178,0.582],"nice":false,"zero":false},"title":null},"y":{"field":"y","type":"quantitative","scale":{"domain":[-0.0155,0.336],"nice":false,"zero":false},"title":null},"color":{"field":"g","type":"nominal","scale":{"domain":["a","b"],"range":["#F8766D","#00BFC4"]},"legend":null}},
"layer":[{"mark":{"type":"line","strokeWidth":1},"encoding":{"detail":{"field":"k","type":"nominal"},"order":{"value":null}}},{"mark":{"type":"point","filled":true,"size":16,"opacity":1}}]}
],"spacing":20,"center":true}
]}
]}
]}
],
"config":{
"font":"Liberation Sans",
"view":{"stroke":"#595959","strokeWidth":1},
"title":{"fontSize":13,"fontWeight":"normal","anchor":"start","frame":"group","color":"#000000","offset":8,"font":"Liberation Sans"},
"axis":{"domain":false,"title":null,"labelFont":"Liberation Sans","labelFontSize":10,"labelColor":"#4D4D4D","tickColor":"#333333","tickSize":3,"labelPadding":1,"labelOverlap":false,"labelFlush":false,"gridColor":"#EBEBEB",
"gridWidth":{"condition":{"test":"abs(datum.value*10-round(datum.value*10))<0.001","value":1},"value":0.5},
"tickOpacity":{"condition":{"test":"abs(datum.value*10-round(datum.value*10))<0.001","value":1},"value":0},
"labelExpr":"abs(datum.value*10-round(datum.value*10))<0.001 ? replace(format(datum.value,'.1f'),'\u2212','-') : ''"},
"axisX":{"tickCount":16},
"axisY":{"tickCount":8}
}
}
